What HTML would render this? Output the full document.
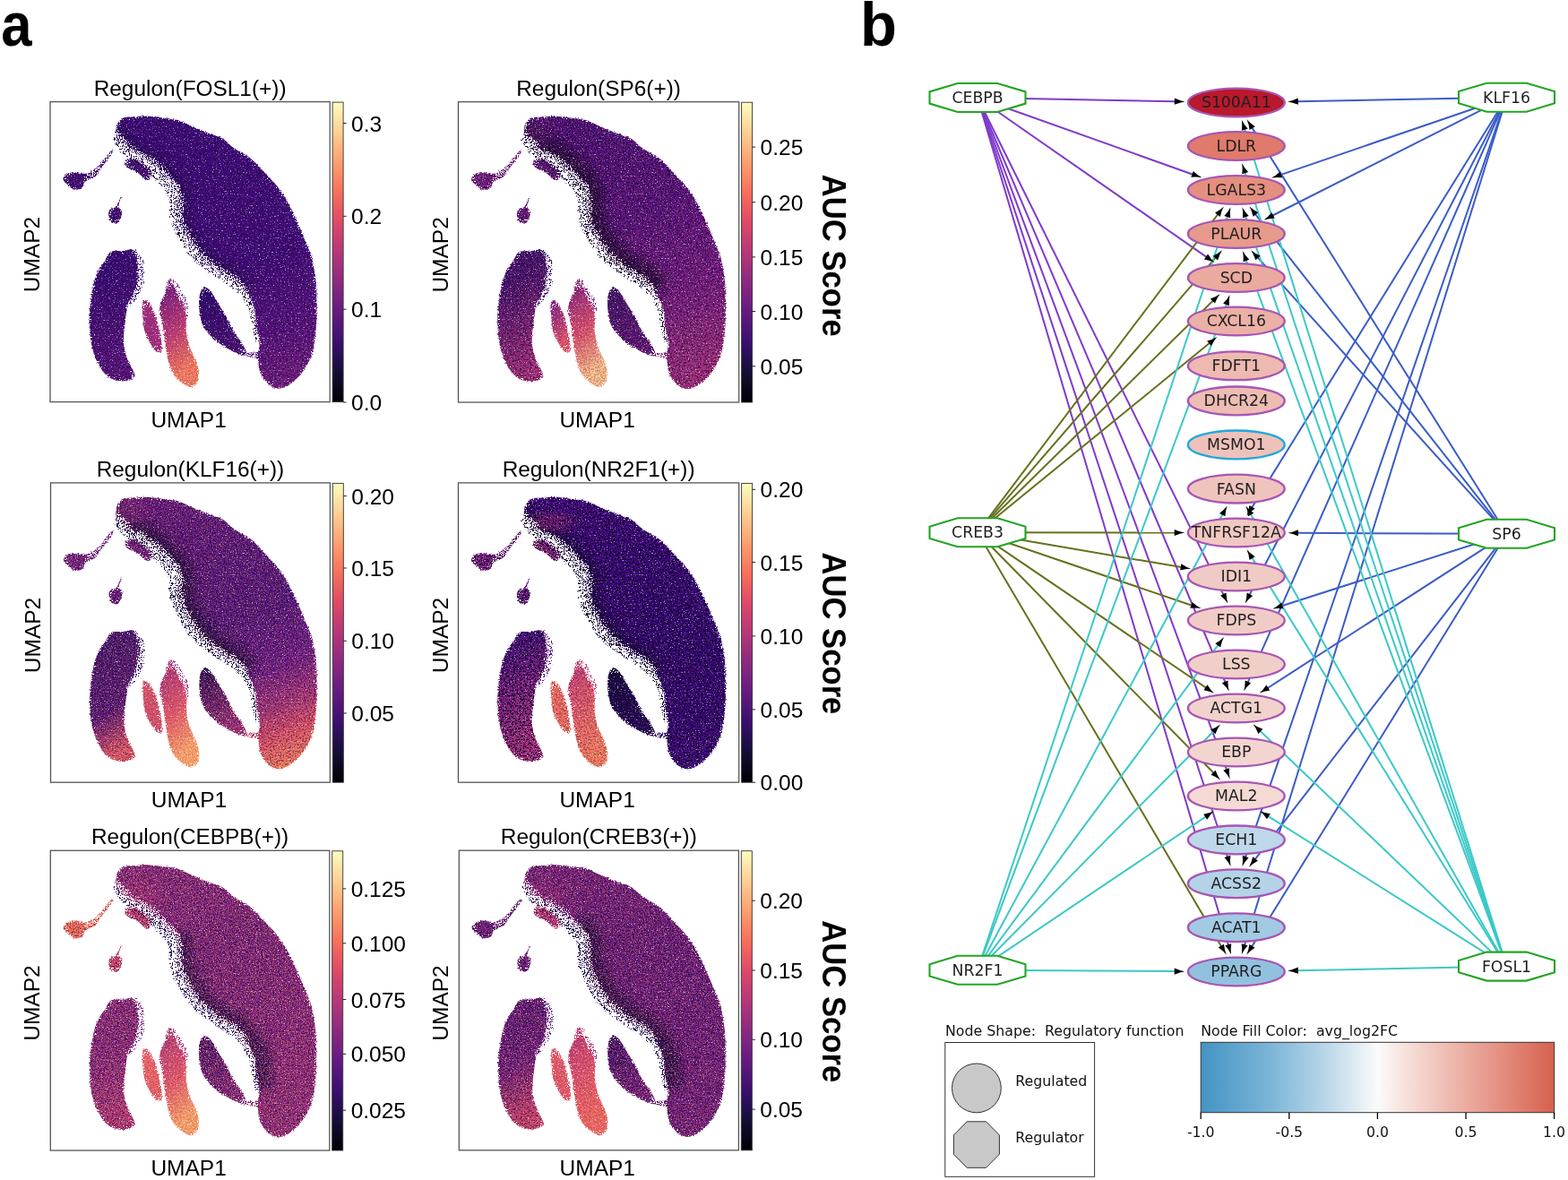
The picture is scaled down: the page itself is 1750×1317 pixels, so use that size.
<!DOCTYPE html>
<html><head><meta charset="utf-8"><title>Regulon figure</title>
<style>
html,body{margin:0;padding:0;background:#fff;}
svg{display:block;}
.ttl{font-family:"Liberation Sans",Arial,sans-serif;font-size:24.4px;text-anchor:middle;fill:#000;}
.ax{font-family:"Liberation Sans",Arial,sans-serif;font-size:24.5px;text-anchor:middle;fill:#000;}
.tk{font-family:"Liberation Sans",Arial,sans-serif;font-size:24.5px;fill:#000;}
.auc{font-family:"Liberation Sans",Arial,sans-serif;font-size:36px;font-weight:bold;text-anchor:middle;fill:#000;}
.pl{font-family:"Liberation Sans",Arial,sans-serif;font-size:67px;font-weight:bold;fill:#000;}
.nl{font-family:"DejaVu Sans",sans-serif;font-size:17.3px;text-anchor:middle;fill:#1e1e1e;}
.lg{font-family:"DejaVu Sans",sans-serif;font-size:15.8px;fill:#111;white-space:pre;}
.lgt{font-family:"DejaVu Sans",sans-serif;font-size:15.7px;fill:#111;text-anchor:middle;}
</style></head><body>
<svg width="1750" height="1317" viewBox="0 0 1750 1317">
<defs>
<path id="arr" d="M0.3,0 Q-5,-0.7 -11.3,-3.6 L-11.3,3.6 Q-5,0.7 0.3,0Z"/>
<filter color-interpolation-filters="sRGB" id="blur6" x="-20%" y="-20%" width="140%" height="140%"><feGaussianBlur stdDeviation="6"/></filter>
<filter color-interpolation-filters="sRGB" id="rough" x="-5%" y="-5%" width="110%" height="110%">
<feTurbulence type="fractalNoise" baseFrequency="0.6" numOctaves="2" seed="7" result="n"/>
<feDisplacementMap in="SourceGraphic" in2="n" scale="3" xChannelSelector="R" yChannelSelector="G"/>
</filter>
<filter color-interpolation-filters="sRGB" id="speck" x="0" y="0" width="100%" height="100%">
<feTurbulence type="fractalNoise" baseFrequency="0.75" numOctaves="1" seed="11" result="n"/>
<feColorMatrix in="n" type="matrix" values="0 0 0 0 1  0 0 0 0 1  0 0 0 0 1  0 0 -3.2 0 1.75"/>
<feComponentTransfer><feFuncA type="discrete" tableValues="0 0 0 0 0.5 1"/></feComponentTransfer>
</filter>
<filter color-interpolation-filters="sRGB" id="speckD" x="0" y="0" width="100%" height="100%">
<feTurbulence type="fractalNoise" baseFrequency="0.55" numOctaves="1" seed="23" result="n"/>
<feColorMatrix in="n" type="matrix" values="0 0 0 0 0.07  0 0 0 0 0.02  0 0 0 0 0.16  0 -4.5 0 0 2.6"/>
<feComponentTransfer><feFuncA type="discrete" tableValues="0 0 0 0.6 1 1"/></feComponentTransfer>
</filter>
<filter color-interpolation-filters="sRGB" id="speckF" x="0" y="0" width="100%" height="100%">
<feTurbulence type="fractalNoise" baseFrequency="0.65" numOctaves="1" seed="5" result="n"/>
<feColorMatrix in="n" type="matrix" values="0 0 0 0 1  0 0 0 0 1  0 0 0 0 1  0 0 -3 0 2.0"/>
<feComponentTransfer><feFuncA type="discrete" tableValues="0 0 0 1 1 1"/></feComponentTransfer>
</filter>
<filter color-interpolation-filters="sRGB" id="fringeF" x="0" y="0" width="100%" height="100%">
<feTurbulence type="fractalNoise" baseFrequency="0.7" numOctaves="1" seed="5" result="n"/>
<feColorMatrix in="n" type="matrix" values="0 0 0 0 0  0 0 0 0 0  0 0 0 0 0  1 0 0 0 0" result="nr"/>
<feComposite in="SourceAlpha" in2="nr" operator="arithmetic" k1="0" k2="0.55" k3="1" k4="-0.93" result="s"/>
<feComponentTransfer in="s" result="b"><feFuncA type="discrete" tableValues="0 1 1 1 1 1 1 1 1 1"/></feComponentTransfer>
<feFlood flood-color="#fff"/>
<feComposite in2="b" operator="in"/>
</filter>
<filter color-interpolation-filters="sRGB" id="speckC" x="0" y="0" width="100%" height="100%">
<feTurbulence type="fractalNoise" baseFrequency="0.8" numOctaves="1" seed="41" result="n"/>
<feColorMatrix in="n" type="matrix" values="0 0 0 0 0  0 0 0 0 0  0 0 0 0 0  -4.5 0 0 0 2.6" result="a"/>
<feComponentTransfer in="a" result="b"><feFuncA type="discrete" tableValues="0 0 0 1 1 1"/></feComponentTransfer>
<feComposite in="SourceGraphic" in2="b" operator="in"/>
</filter>
<filter color-interpolation-filters="sRGB" id="sparse" x="-10%" y="-10%" width="120%" height="120%">
<feTurbulence type="fractalNoise" baseFrequency="0.85" numOctaves="1" seed="77" result="n"/>
<feColorMatrix in="n" type="matrix" values="0 0 0 0 0  0 0 0 0 0  0 0 0 0 0  4.5 0 0 0 -2.0" result="a"/>
<feComponentTransfer in="a" result="b"><feFuncA type="discrete" tableValues="0 0 0 1 1 1"/></feComponentTransfer>
<feComposite in="SourceGraphic" in2="b" operator="in"/>
</filter>
<filter color-interpolation-filters="sRGB" id="blur3" x="-20%" y="-20%" width="140%" height="140%"><feGaussianBlur stdDeviation="3"/></filter>
<mask id="mshape" maskUnits="userSpaceOnUse" x="0" y="0" width="320" height="340"><path d="M73.1,35.7 C73.4,33.3 73.4,28 74.9,25 C76.4,22 78.7,19.2 82,17.8 C85.3,16.4 90.3,17.2 94.5,16.9 C98.7,16.6 102,15.8 107,16 C112,16.1 118.9,17.1 124.8,17.8 C130.7,18.6 136.7,18.7 142.6,20.5 C148.5,22.3 154.6,26 160.5,28.5 C166.4,31 173,33.6 178.3,35.7 C183.6,37.8 188.1,38.3 192.5,41 C196.9,43.7 199.9,48.1 205,51.7 C210.1,55.3 217,57.6 222.9,62.4 C228.8,67.2 235.3,74.5 240.7,80.2 C246,85.9 250.6,90.3 255,96.3 C259.4,102.2 263.5,108.8 267.4,115.9 C271.2,123 274.8,131.7 278.1,139.1 C281.4,146.5 284.6,154.6 287,160.5 C289.4,166.4 290.8,168 292.4,174.8 C294,181.7 295.9,192.7 296.8,201.6 C297.7,210.5 297.7,219.4 297.7,228.3 C297.7,237.2 297.7,246.2 296.8,255.1 C295.9,264 294.6,274.4 292.4,281.8 C290.2,289.2 286.8,294.6 283.5,299.6 C280.2,304.7 277,308.7 272.8,312.1 C268.6,315.5 262.7,319.1 258.5,320.1 C254.3,321.1 251.1,319.9 247.8,318.3 C244.5,316.7 241.3,313.4 238.9,310.3 C236.5,307.2 234.7,303.5 233.5,299.6 C232.3,295.7 233.4,289.5 231.5,287 C229.6,284.5 224.9,285.2 222,284.5 C219.1,283.8 214,283.7 214,283 C214,282.3 219,281.2 222,280.5 C225,279.8 230.1,281.2 232,279 C233.9,276.8 233.8,272.4 233.5,267.5 C233.2,262.6 230.9,255.6 230,249.7 C229.1,243.8 230,237.8 228.2,231.9 C226.4,226 223.2,219.3 219.3,214 C215.4,208.7 210.3,204 205,199.8 C199.7,195.7 193.1,193.3 187.2,189.1 C181.3,184.9 173.8,179 169.4,174.8 C165,170.6 163.2,167.9 160.5,164 C157.8,160.1 155.7,155.7 153.3,151.5 C150.9,147.3 148,143.5 146.2,139.1 C144.4,134.7 143.2,130.2 142.6,124.8 C142,119.5 143.2,112 142.6,107 C142,102 141.5,98.4 139.1,94.5 C136.7,90.6 132.3,87.7 128.4,83.8 C124.5,79.9 120.7,75.2 115.9,71.3 C111.1,67.4 105.2,63.9 99.8,60.6 C94.4,57.3 88.2,55.3 83.8,51.7 C79.3,48.1 74.9,41.9 73.1,39.2 C71.3,36.5 72.8,38.1 73.1,35.7Z" fill="#fff"/><path d="M83.8,66 C85,64.2 88.8,61.5 92.7,62.4 C96.6,63.3 103.4,68.3 107,71.3 C110.6,74.3 113.8,77.5 114.1,80.2 C114.4,82.9 111.8,87.7 108.8,87.4 C105.8,87.1 100.2,80.8 96.3,78.4 C92.4,76 87.7,75.2 85.6,73.1 C83.5,71 82.6,67.8 83.8,66Z" fill="#fff"/><path d="M14.3,86.5 C14.3,84.4 17.2,81.5 19.6,80.2 C22,78.9 25.5,78.4 28.5,78.4 C31.5,78.4 34.7,80.2 37.4,80.2 C40.1,80.2 41.9,79.8 44.6,78.4 C47.3,77.1 49.6,75.9 53.5,72.1 C57.4,68.2 65,57.8 67.7,55.3 C70.4,52.8 71.4,53.7 69.5,57 C67.6,60.3 59.6,70.4 56.3,74.9 C53,79.4 52.8,81.4 49.9,83.8 C47,86.2 41.6,87 39.2,89.1 C36.8,91.2 37.8,94.8 35.7,96.3 C33.6,97.8 29.4,98.6 26.7,98 C24,97.4 21.7,94.6 19.6,92.7 C17.5,90.8 14.3,88.6 14.3,86.5Z" fill="#fff"/><path d="M79.3,107 C79,108.6 76.3,114 76.5,116.7 C76.7,119.4 79.9,120.8 80.2,123 C80.5,125.2 79.3,128 78.4,130.1 C77.5,132.2 76.7,134.9 74.9,135.5 C73.1,136.1 69.3,135.5 67.7,133.7 C66.1,131.9 65.1,127.2 65.1,124.8 C65.1,122.4 66.2,120.8 67.7,119.5 C69.2,118.2 72.3,118.8 74.1,116.7 C75.9,114.6 77.5,108.6 78.4,107 C79.3,105.4 79.6,105.4 79.3,107Z" fill="#fff"/><path d="M67.7,167.7 C71,165.8 76,167.2 80.2,166.8 C84.4,166.4 89.8,163.6 92.7,165.5 C95.6,167.4 96.7,172.7 97.5,178.4 C98.3,184.2 98.4,193.6 97.5,200 C96.6,206.4 93.8,212.7 92,217 C90.2,221.3 88.2,221.2 86.8,226 C85.4,230.8 84.6,239.2 83.8,246.1 C83,253 81.7,260.9 82,267.5 C82.3,274.1 83.5,279.1 85.6,285.4 C87.7,291.6 93.9,300.9 94.5,305 C95.1,309.1 91.8,309.1 89.1,310.3 C86.4,311.5 82.6,312.7 78.4,312.1 C74.2,311.5 68.4,310.1 64.2,306.8 C60.1,303.5 56.5,298.1 53.5,292.5 C50.5,286.9 48,280.6 46.4,272.9 C44.8,265.2 43.9,255 43.7,246.1 C43.6,237.2 44.2,228.3 45.5,219.4 C46.8,210.5 49.2,199.5 51.7,192.7 C54.2,185.9 57.9,182.6 60.6,178.4 C63.3,174.2 64.4,169.6 67.7,167.7Z" fill="#fff"/><path d="M133.8,198 C135.2,198.2 136.8,202.9 138.3,205.9 C139.8,208.9 140.9,212.6 142.8,216.2 C144.7,219.8 148.1,223.6 149.6,227.6 C151.1,231.6 151.5,235.4 151.9,240.1 C152.3,244.8 151.3,250.5 151.9,256 C152.5,261.5 153.6,267.8 155.3,273.1 C157,278.4 160.3,283.1 162.1,287.9 C163.9,292.6 165.6,297.4 166,301.6 C166.4,305.8 165.9,310.1 164.5,313 C163.1,315.9 160.5,318.5 157.6,318.7 C154.7,318.9 150.7,316.6 147.3,314.1 C143.9,311.6 139.8,308.3 137.1,303.9 C134.4,299.5 132.9,294 131.4,287.9 C129.9,281.8 128.9,273.7 128,267.4 C127,261.1 126.7,255.6 125.7,250.3 C124.8,245 122.7,239.9 122.3,235.5 C121.9,231.1 122.5,227.7 123.4,224.1 C124.4,220.5 126.9,217.1 128,213.9 C129.1,210.7 129.2,207.5 130.2,204.8 C131.2,202.2 132.5,197.8 133.8,198Z" fill="#fff"/><path d="M103.4,223 C104.6,220.6 108.1,222 110.5,224.7 C112.9,227.4 115.6,233.1 117.7,239 C119.8,244.9 121.8,253.9 123,260.4 C124.2,266.9 125.7,275.2 124.8,278.2 C123.9,281.2 120.1,280 117.7,278.2 C115.3,276.4 112.6,271.4 110.5,267.5 C108.4,263.6 106.4,259.9 105.2,255.1 C104,250.3 103.7,244.3 103.4,239 C103.1,233.7 102.2,225.4 103.4,223Z" fill="#fff"/><path d="M171.2,207.8 C173.1,206.6 175.6,207.7 178.3,210.5 C181,213.3 184.2,219.9 187.2,224.7 C190.2,229.4 193.1,233.7 196.1,239 C199.1,244.3 202,251.8 205,256.8 C208,261.9 211.5,265.1 213.9,269.3 C216.3,273.5 219.9,279.7 219.3,281.8 C218.7,283.9 214.3,283 210.4,281.8 C206.5,280.6 200.6,277.4 196.1,274.7 C191.6,272 187.8,269.7 183.6,265.8 C179.4,261.9 174,256.9 171.2,251.5 C168.4,246.2 167.4,239.3 166.7,233.7 C165.9,228 165.9,221.9 166.7,217.6 C167.4,213.3 169.3,209 171.2,207.8Z" fill="#fff"/></mask><g id="fringeband"><rect x="0" y="0" width="312" height="335" fill="#fff" opacity="0.003"/><g filter="url(#blur3)"><path d="M73.1,35.7 C73.4,33.3 73.4,28 74.9,25 C76.4,22 78.7,19.2 82,17.8 C85.3,16.4 90.3,17.2 94.5,16.9 C98.7,16.6 102,15.8 107,16 C112,16.1 118.9,17.1 124.8,17.8 C130.7,18.6 136.7,18.7 142.6,20.5 C148.5,22.3 154.6,26 160.5,28.5 C166.4,31 173,33.6 178.3,35.7 C183.6,37.8 188.1,38.3 192.5,41 C196.9,43.7 199.9,48.1 205,51.7 C210.1,55.3 217,57.6 222.9,62.4 C228.8,67.2 235.3,74.5 240.7,80.2 C246,85.9 250.6,90.3 255,96.3 C259.4,102.2 263.5,108.8 267.4,115.9 C271.2,123 274.8,131.7 278.1,139.1 C281.4,146.5 284.6,154.6 287,160.5 C289.4,166.4 290.8,168 292.4,174.8 C294,181.7 295.9,192.7 296.8,201.6 C297.7,210.5 297.7,219.4 297.7,228.3 C297.7,237.2 297.7,246.2 296.8,255.1 C295.9,264 294.6,274.4 292.4,281.8 C290.2,289.2 286.8,294.6 283.5,299.6 C280.2,304.7 277,308.7 272.8,312.1 C268.6,315.5 262.7,319.1 258.5,320.1 C254.3,321.1 251.1,319.9 247.8,318.3 C244.5,316.7 241.3,313.4 238.9,310.3 C236.5,307.2 234.7,303.5 233.5,299.6 C232.3,295.7 233.4,289.5 231.5,287 C229.6,284.5 224.9,285.2 222,284.5 C219.1,283.8 214,283.7 214,283 C214,282.3 219,281.2 222,280.5 C225,279.8 230.1,281.2 232,279 C233.9,276.8 233.8,272.4 233.5,267.5 C233.2,262.6 230.9,255.6 230,249.7 C229.1,243.8 230,237.8 228.2,231.9 C226.4,226 223.2,219.3 219.3,214 C215.4,208.7 210.3,204 205,199.8 C199.7,195.7 193.1,193.3 187.2,189.1 C181.3,184.9 173.8,179 169.4,174.8 C165,170.6 163.2,167.9 160.5,164 C157.8,160.1 155.7,155.7 153.3,151.5 C150.9,147.3 148,143.5 146.2,139.1 C144.4,134.7 143.2,130.2 142.6,124.8 C142,119.5 143.2,112 142.6,107 C142,102 141.5,98.4 139.1,94.5 C136.7,90.6 132.3,87.7 128.4,83.8 C124.5,79.9 120.7,75.2 115.9,71.3 C111.1,67.4 105.2,63.9 99.8,60.6 C94.4,57.3 88.2,55.3 83.8,51.7 C79.3,48.1 74.9,41.9 73.1,39.2 C71.3,36.5 72.8,38.1 73.1,35.7Z" fill="none" stroke="#fff" stroke-width="7"/><path d="M83.8,66 C85,64.2 88.8,61.5 92.7,62.4 C96.6,63.3 103.4,68.3 107,71.3 C110.6,74.3 113.8,77.5 114.1,80.2 C114.4,82.9 111.8,87.7 108.8,87.4 C105.8,87.1 100.2,80.8 96.3,78.4 C92.4,76 87.7,75.2 85.6,73.1 C83.5,71 82.6,67.8 83.8,66Z" fill="none" stroke="#fff" stroke-width="7"/><path d="M14.3,86.5 C14.3,84.4 17.2,81.5 19.6,80.2 C22,78.9 25.5,78.4 28.5,78.4 C31.5,78.4 34.7,80.2 37.4,80.2 C40.1,80.2 41.9,79.8 44.6,78.4 C47.3,77.1 49.6,75.9 53.5,72.1 C57.4,68.2 65,57.8 67.7,55.3 C70.4,52.8 71.4,53.7 69.5,57 C67.6,60.3 59.6,70.4 56.3,74.9 C53,79.4 52.8,81.4 49.9,83.8 C47,86.2 41.6,87 39.2,89.1 C36.8,91.2 37.8,94.8 35.7,96.3 C33.6,97.8 29.4,98.6 26.7,98 C24,97.4 21.7,94.6 19.6,92.7 C17.5,90.8 14.3,88.6 14.3,86.5Z" fill="none" stroke="#fff" stroke-width="7"/><path d="M79.3,107 C79,108.6 76.3,114 76.5,116.7 C76.7,119.4 79.9,120.8 80.2,123 C80.5,125.2 79.3,128 78.4,130.1 C77.5,132.2 76.7,134.9 74.9,135.5 C73.1,136.1 69.3,135.5 67.7,133.7 C66.1,131.9 65.1,127.2 65.1,124.8 C65.1,122.4 66.2,120.8 67.7,119.5 C69.2,118.2 72.3,118.8 74.1,116.7 C75.9,114.6 77.5,108.6 78.4,107 C79.3,105.4 79.6,105.4 79.3,107Z" fill="none" stroke="#fff" stroke-width="7"/><path d="M67.7,167.7 C71,165.8 76,167.2 80.2,166.8 C84.4,166.4 89.8,163.6 92.7,165.5 C95.6,167.4 96.7,172.7 97.5,178.4 C98.3,184.2 98.4,193.6 97.5,200 C96.6,206.4 93.8,212.7 92,217 C90.2,221.3 88.2,221.2 86.8,226 C85.4,230.8 84.6,239.2 83.8,246.1 C83,253 81.7,260.9 82,267.5 C82.3,274.1 83.5,279.1 85.6,285.4 C87.7,291.6 93.9,300.9 94.5,305 C95.1,309.1 91.8,309.1 89.1,310.3 C86.4,311.5 82.6,312.7 78.4,312.1 C74.2,311.5 68.4,310.1 64.2,306.8 C60.1,303.5 56.5,298.1 53.5,292.5 C50.5,286.9 48,280.6 46.4,272.9 C44.8,265.2 43.9,255 43.7,246.1 C43.6,237.2 44.2,228.3 45.5,219.4 C46.8,210.5 49.2,199.5 51.7,192.7 C54.2,185.9 57.9,182.6 60.6,178.4 C63.3,174.2 64.4,169.6 67.7,167.7Z" fill="none" stroke="#fff" stroke-width="7"/><path d="M133.8,198 C135.2,198.2 136.8,202.9 138.3,205.9 C139.8,208.9 140.9,212.6 142.8,216.2 C144.7,219.8 148.1,223.6 149.6,227.6 C151.1,231.6 151.5,235.4 151.9,240.1 C152.3,244.8 151.3,250.5 151.9,256 C152.5,261.5 153.6,267.8 155.3,273.1 C157,278.4 160.3,283.1 162.1,287.9 C163.9,292.6 165.6,297.4 166,301.6 C166.4,305.8 165.9,310.1 164.5,313 C163.1,315.9 160.5,318.5 157.6,318.7 C154.7,318.9 150.7,316.6 147.3,314.1 C143.9,311.6 139.8,308.3 137.1,303.9 C134.4,299.5 132.9,294 131.4,287.9 C129.9,281.8 128.9,273.7 128,267.4 C127,261.1 126.7,255.6 125.7,250.3 C124.8,245 122.7,239.9 122.3,235.5 C121.9,231.1 122.5,227.7 123.4,224.1 C124.4,220.5 126.9,217.1 128,213.9 C129.1,210.7 129.2,207.5 130.2,204.8 C131.2,202.2 132.5,197.8 133.8,198Z" fill="none" stroke="#fff" stroke-width="7"/><path d="M103.4,223 C104.6,220.6 108.1,222 110.5,224.7 C112.9,227.4 115.6,233.1 117.7,239 C119.8,244.9 121.8,253.9 123,260.4 C124.2,266.9 125.7,275.2 124.8,278.2 C123.9,281.2 120.1,280 117.7,278.2 C115.3,276.4 112.6,271.4 110.5,267.5 C108.4,263.6 106.4,259.9 105.2,255.1 C104,250.3 103.7,244.3 103.4,239 C103.1,233.7 102.2,225.4 103.4,223Z" fill="none" stroke="#fff" stroke-width="7"/><path d="M171.2,207.8 C173.1,206.6 175.6,207.7 178.3,210.5 C181,213.3 184.2,219.9 187.2,224.7 C190.2,229.4 193.1,233.7 196.1,239 C199.1,244.3 202,251.8 205,256.8 C208,261.9 211.5,265.1 213.9,269.3 C216.3,273.5 219.9,279.7 219.3,281.8 C218.7,283.9 214.3,283 210.4,281.8 C206.5,280.6 200.6,277.4 196.1,274.7 C191.6,272 187.8,269.7 183.6,265.8 C179.4,261.9 174,256.9 171.2,251.5 C168.4,246.2 167.4,239.3 166.7,233.7 C165.9,228 165.9,221.9 166.7,217.6 C167.4,213.3 169.3,209 171.2,207.8Z" fill="none" stroke="#fff" stroke-width="7"/><path d="M219.3,214 C216.9,211.6 210.3,204 205,199.8 C199.7,195.7 193.1,193.3 187.2,189.1 C181.3,184.9 173.8,179 169.4,174.8 C165,170.6 163.2,167.9 160.5,164 C157.8,160.1 155.7,155.7 153.3,151.5 C150.9,147.3 148,143.5 146.2,139.1 C144.4,134.7 143.2,130.2 142.6,124.8 C142,119.5 143.2,112 142.6,107 C142,102 141.5,98.4 139.1,94.5 C136.7,90.6 132.3,87.7 128.4,83.8 C124.5,79.9 120.7,75.2 115.9,71.3 C111.1,67.4 105.2,63.9 99.8,60.6 C94.4,57.3 88.2,55.3 83.8,51.7 C79.3,48.1 72.9,39.5 73.1,39.2 C73.3,38.9 83,48.2 85,50" fill="none" stroke="#fff" stroke-width="16"/></g></g><mask id="mdark" maskUnits="userSpaceOnUse" x="0" y="0" width="320" height="340"><path d="M73.1,35.7 C73.4,33.3 73.4,28 74.9,25 C76.4,22 78.7,19.2 82,17.8 C85.3,16.4 90.3,17.2 94.5,16.9 C98.7,16.6 102,15.8 107,16 C112,16.1 118.9,17.1 124.8,17.8 C130.7,18.6 136.7,18.7 142.6,20.5 C148.5,22.3 154.6,26 160.5,28.5 C166.4,31 173,33.6 178.3,35.7 C183.6,37.8 188.1,38.3 192.5,41 C196.9,43.7 199.9,48.1 205,51.7 C210.1,55.3 217,57.6 222.9,62.4 C228.8,67.2 235.3,74.5 240.7,80.2 C246,85.9 250.6,90.3 255,96.3 C259.4,102.2 263.5,108.8 267.4,115.9 C271.2,123 274.8,131.7 278.1,139.1 C281.4,146.5 284.6,154.6 287,160.5 C289.4,166.4 290.8,168 292.4,174.8 C294,181.7 295.9,192.7 296.8,201.6 C297.7,210.5 297.7,219.4 297.7,228.3 C297.7,237.2 297.7,246.2 296.8,255.1 C295.9,264 294.6,274.4 292.4,281.8 C290.2,289.2 286.8,294.6 283.5,299.6 C280.2,304.7 277,308.7 272.8,312.1 C268.6,315.5 262.7,319.1 258.5,320.1 C254.3,321.1 251.1,319.9 247.8,318.3 C244.5,316.7 241.3,313.4 238.9,310.3 C236.5,307.2 234.7,303.5 233.5,299.6 C232.3,295.7 233.4,289.5 231.5,287 C229.6,284.5 224.9,285.2 222,284.5 C219.1,283.8 214,283.7 214,283 C214,282.3 219,281.2 222,280.5 C225,279.8 230.1,281.2 232,279 C233.9,276.8 233.8,272.4 233.5,267.5 C233.2,262.6 230.9,255.6 230,249.7 C229.1,243.8 230,237.8 228.2,231.9 C226.4,226 223.2,219.3 219.3,214 C215.4,208.7 210.3,204 205,199.8 C199.7,195.7 193.1,193.3 187.2,189.1 C181.3,184.9 173.8,179 169.4,174.8 C165,170.6 163.2,167.9 160.5,164 C157.8,160.1 155.7,155.7 153.3,151.5 C150.9,147.3 148,143.5 146.2,139.1 C144.4,134.7 143.2,130.2 142.6,124.8 C142,119.5 143.2,112 142.6,107 C142,102 141.5,98.4 139.1,94.5 C136.7,90.6 132.3,87.7 128.4,83.8 C124.5,79.9 120.7,75.2 115.9,71.3 C111.1,67.4 105.2,63.9 99.8,60.6 C94.4,57.3 88.2,55.3 83.8,51.7 C79.3,48.1 74.9,41.9 73.1,39.2 C71.3,36.5 72.8,38.1 73.1,35.7Z" fill="#fff"/><path d="M83.8,66 C85,64.2 88.8,61.5 92.7,62.4 C96.6,63.3 103.4,68.3 107,71.3 C110.6,74.3 113.8,77.5 114.1,80.2 C114.4,82.9 111.8,87.7 108.8,87.4 C105.8,87.1 100.2,80.8 96.3,78.4 C92.4,76 87.7,75.2 85.6,73.1 C83.5,71 82.6,67.8 83.8,66Z" fill="#fff"/><path d="M14.3,86.5 C14.3,84.4 17.2,81.5 19.6,80.2 C22,78.9 25.5,78.4 28.5,78.4 C31.5,78.4 34.7,80.2 37.4,80.2 C40.1,80.2 41.9,79.8 44.6,78.4 C47.3,77.1 49.6,75.9 53.5,72.1 C57.4,68.2 65,57.8 67.7,55.3 C70.4,52.8 71.4,53.7 69.5,57 C67.6,60.3 59.6,70.4 56.3,74.9 C53,79.4 52.8,81.4 49.9,83.8 C47,86.2 41.6,87 39.2,89.1 C36.8,91.2 37.8,94.8 35.7,96.3 C33.6,97.8 29.4,98.6 26.7,98 C24,97.4 21.7,94.6 19.6,92.7 C17.5,90.8 14.3,88.6 14.3,86.5Z" fill="#fff"/><path d="M79.3,107 C79,108.6 76.3,114 76.5,116.7 C76.7,119.4 79.9,120.8 80.2,123 C80.5,125.2 79.3,128 78.4,130.1 C77.5,132.2 76.7,134.9 74.9,135.5 C73.1,136.1 69.3,135.5 67.7,133.7 C66.1,131.9 65.1,127.2 65.1,124.8 C65.1,122.4 66.2,120.8 67.7,119.5 C69.2,118.2 72.3,118.8 74.1,116.7 C75.9,114.6 77.5,108.6 78.4,107 C79.3,105.4 79.6,105.4 79.3,107Z" fill="#fff"/><path d="M67.7,167.7 C71,165.8 76,167.2 80.2,166.8 C84.4,166.4 89.8,163.6 92.7,165.5 C95.6,167.4 96.7,172.7 97.5,178.4 C98.3,184.2 98.4,193.6 97.5,200 C96.6,206.4 93.8,212.7 92,217 C90.2,221.3 88.2,221.2 86.8,226 C85.4,230.8 84.6,239.2 83.8,246.1 C83,253 81.7,260.9 82,267.5 C82.3,274.1 83.5,279.1 85.6,285.4 C87.7,291.6 93.9,300.9 94.5,305 C95.1,309.1 91.8,309.1 89.1,310.3 C86.4,311.5 82.6,312.7 78.4,312.1 C74.2,311.5 68.4,310.1 64.2,306.8 C60.1,303.5 56.5,298.1 53.5,292.5 C50.5,286.9 48,280.6 46.4,272.9 C44.8,265.2 43.9,255 43.7,246.1 C43.6,237.2 44.2,228.3 45.5,219.4 C46.8,210.5 49.2,199.5 51.7,192.7 C54.2,185.9 57.9,182.6 60.6,178.4 C63.3,174.2 64.4,169.6 67.7,167.7Z" fill="#fff"/><path d="M171.2,207.8 C173.1,206.6 175.6,207.7 178.3,210.5 C181,213.3 184.2,219.9 187.2,224.7 C190.2,229.4 193.1,233.7 196.1,239 C199.1,244.3 202,251.8 205,256.8 C208,261.9 211.5,265.1 213.9,269.3 C216.3,273.5 219.9,279.7 219.3,281.8 C218.7,283.9 214.3,283 210.4,281.8 C206.5,280.6 200.6,277.4 196.1,274.7 C191.6,272 187.8,269.7 183.6,265.8 C179.4,261.9 174,256.9 171.2,251.5 C168.4,246.2 167.4,239.3 166.7,233.7 C165.9,228 165.9,221.9 166.7,217.6 C167.4,213.3 169.3,209 171.2,207.8Z" fill="#fff"/></mask><mask id="mbright" maskUnits="userSpaceOnUse" x="0" y="0" width="320" height="340"><path d="M133.8,198 C135.2,198.2 136.8,202.9 138.3,205.9 C139.8,208.9 140.9,212.6 142.8,216.2 C144.7,219.8 148.1,223.6 149.6,227.6 C151.1,231.6 151.5,235.4 151.9,240.1 C152.3,244.8 151.3,250.5 151.9,256 C152.5,261.5 153.6,267.8 155.3,273.1 C157,278.4 160.3,283.1 162.1,287.9 C163.9,292.6 165.6,297.4 166,301.6 C166.4,305.8 165.9,310.1 164.5,313 C163.1,315.9 160.5,318.5 157.6,318.7 C154.7,318.9 150.7,316.6 147.3,314.1 C143.9,311.6 139.8,308.3 137.1,303.9 C134.4,299.5 132.9,294 131.4,287.9 C129.9,281.8 128.9,273.7 128,267.4 C127,261.1 126.7,255.6 125.7,250.3 C124.8,245 122.7,239.9 122.3,235.5 C121.9,231.1 122.5,227.7 123.4,224.1 C124.4,220.5 126.9,217.1 128,213.9 C129.1,210.7 129.2,207.5 130.2,204.8 C131.2,202.2 132.5,197.8 133.8,198Z" fill="#fff"/><path d="M103.4,223 C104.6,220.6 108.1,222 110.5,224.7 C112.9,227.4 115.6,233.1 117.7,239 C119.8,244.9 121.8,253.9 123,260.4 C124.2,266.9 125.7,275.2 124.8,278.2 C123.9,281.2 120.1,280 117.7,278.2 C115.3,276.4 112.6,271.4 110.5,267.5 C108.4,263.6 106.4,259.9 105.2,255.1 C104,250.3 103.7,244.3 103.4,239 C103.1,233.7 102.2,225.4 103.4,223Z" fill="#fff"/></mask>
</defs>
<rect width="1750" height="1317" fill="#fff"/>
<text transform="translate(1.2,51.3) scale(0.92,1.02)" class="pl">a</text>
<text transform="translate(960,51.3) scale(1,1.01)" class="pl">b</text>

<defs>
<linearGradient id="gc0" gradientUnits="userSpaceOnUse" x1="150" y1="20" x2="275" y2="320"><stop offset="0" stop-color="#420d7c"/><stop offset="0.55" stop-color="#460e7e"/><stop offset="0.8" stop-color="#5c1481"/><stop offset="1" stop-color="#7a2181"/></linearGradient>
<linearGradient id="gl0" x1="0" y1="0" x2="0.2" y2="1"><stop offset="0.2" stop-color="#3f0d7a"/><stop offset="0.25" stop-color="#3f0d7a"/><stop offset="1" stop-color="#5e1680"/></linearGradient>
<linearGradient id="gm0" x1="0" y1="0" x2="0.3" y2="1"><stop offset="0.05" stop-color="#6a1c80"/><stop offset="0.55" stop-color="#c03b75"/><stop offset="0.95" stop-color="#f57b5f"/></linearGradient>
<linearGradient id="gf0" x1="0" y1="0" x2="0.4" y2="1"><stop offset="0.1" stop-color="#380c72"/><stop offset="1" stop-color="#4c1278"/></linearGradient>
<clipPath id="cc0"><path d="M73.1,35.7 C73.4,33.3 73.4,28 74.9,25 C76.4,22 78.7,19.2 82,17.8 C85.3,16.4 90.3,17.2 94.5,16.9 C98.7,16.6 102,15.8 107,16 C112,16.1 118.9,17.1 124.8,17.8 C130.7,18.6 136.7,18.7 142.6,20.5 C148.5,22.3 154.6,26 160.5,28.5 C166.4,31 173,33.6 178.3,35.7 C183.6,37.8 188.1,38.3 192.5,41 C196.9,43.7 199.9,48.1 205,51.7 C210.1,55.3 217,57.6 222.9,62.4 C228.8,67.2 235.3,74.5 240.7,80.2 C246,85.9 250.6,90.3 255,96.3 C259.4,102.2 263.5,108.8 267.4,115.9 C271.2,123 274.8,131.7 278.1,139.1 C281.4,146.5 284.6,154.6 287,160.5 C289.4,166.4 290.8,168 292.4,174.8 C294,181.7 295.9,192.7 296.8,201.6 C297.7,210.5 297.7,219.4 297.7,228.3 C297.7,237.2 297.7,246.2 296.8,255.1 C295.9,264 294.6,274.4 292.4,281.8 C290.2,289.2 286.8,294.6 283.5,299.6 C280.2,304.7 277,308.7 272.8,312.1 C268.6,315.5 262.7,319.1 258.5,320.1 C254.3,321.1 251.1,319.9 247.8,318.3 C244.5,316.7 241.3,313.4 238.9,310.3 C236.5,307.2 234.7,303.5 233.5,299.6 C232.3,295.7 233.4,289.5 231.5,287 C229.6,284.5 224.9,285.2 222,284.5 C219.1,283.8 214,283.7 214,283 C214,282.3 219,281.2 222,280.5 C225,279.8 230.1,281.2 232,279 C233.9,276.8 233.8,272.4 233.5,267.5 C233.2,262.6 230.9,255.6 230,249.7 C229.1,243.8 230,237.8 228.2,231.9 C226.4,226 223.2,219.3 219.3,214 C215.4,208.7 210.3,204 205,199.8 C199.7,195.7 193.1,193.3 187.2,189.1 C181.3,184.9 173.8,179 169.4,174.8 C165,170.6 163.2,167.9 160.5,164 C157.8,160.1 155.7,155.7 153.3,151.5 C150.9,147.3 148,143.5 146.2,139.1 C144.4,134.7 143.2,130.2 142.6,124.8 C142,119.5 143.2,112 142.6,107 C142,102 141.5,98.4 139.1,94.5 C136.7,90.6 132.3,87.7 128.4,83.8 C124.5,79.9 120.7,75.2 115.9,71.3 C111.1,67.4 105.2,63.9 99.8,60.6 C94.4,57.3 88.2,55.3 83.8,51.7 C79.3,48.1 74.9,41.9 73.1,39.2 C71.3,36.5 72.8,38.1 73.1,35.7Z"/></clipPath>
</defs>
<g transform="translate(56,113.6) scale(0.9994,0.9988)">
<g filter="url(#rough)">
<path d="M73.1,35.7 C73.4,33.3 73.4,28 74.9,25 C76.4,22 78.7,19.2 82,17.8 C85.3,16.4 90.3,17.2 94.5,16.9 C98.7,16.6 102,15.8 107,16 C112,16.1 118.9,17.1 124.8,17.8 C130.7,18.6 136.7,18.7 142.6,20.5 C148.5,22.3 154.6,26 160.5,28.5 C166.4,31 173,33.6 178.3,35.7 C183.6,37.8 188.1,38.3 192.5,41 C196.9,43.7 199.9,48.1 205,51.7 C210.1,55.3 217,57.6 222.9,62.4 C228.8,67.2 235.3,74.5 240.7,80.2 C246,85.9 250.6,90.3 255,96.3 C259.4,102.2 263.5,108.8 267.4,115.9 C271.2,123 274.8,131.7 278.1,139.1 C281.4,146.5 284.6,154.6 287,160.5 C289.4,166.4 290.8,168 292.4,174.8 C294,181.7 295.9,192.7 296.8,201.6 C297.7,210.5 297.7,219.4 297.7,228.3 C297.7,237.2 297.7,246.2 296.8,255.1 C295.9,264 294.6,274.4 292.4,281.8 C290.2,289.2 286.8,294.6 283.5,299.6 C280.2,304.7 277,308.7 272.8,312.1 C268.6,315.5 262.7,319.1 258.5,320.1 C254.3,321.1 251.1,319.9 247.8,318.3 C244.5,316.7 241.3,313.4 238.9,310.3 C236.5,307.2 234.7,303.5 233.5,299.6 C232.3,295.7 233.4,289.5 231.5,287 C229.6,284.5 224.9,285.2 222,284.5 C219.1,283.8 214,283.7 214,283 C214,282.3 219,281.2 222,280.5 C225,279.8 230.1,281.2 232,279 C233.9,276.8 233.8,272.4 233.5,267.5 C233.2,262.6 230.9,255.6 230,249.7 C229.1,243.8 230,237.8 228.2,231.9 C226.4,226 223.2,219.3 219.3,214 C215.4,208.7 210.3,204 205,199.8 C199.7,195.7 193.1,193.3 187.2,189.1 C181.3,184.9 173.8,179 169.4,174.8 C165,170.6 163.2,167.9 160.5,164 C157.8,160.1 155.7,155.7 153.3,151.5 C150.9,147.3 148,143.5 146.2,139.1 C144.4,134.7 143.2,130.2 142.6,124.8 C142,119.5 143.2,112 142.6,107 C142,102 141.5,98.4 139.1,94.5 C136.7,90.6 132.3,87.7 128.4,83.8 C124.5,79.9 120.7,75.2 115.9,71.3 C111.1,67.4 105.2,63.9 99.8,60.6 C94.4,57.3 88.2,55.3 83.8,51.7 C79.3,48.1 74.9,41.9 73.1,39.2 C71.3,36.5 72.8,38.1 73.1,35.7Z" fill="url(#gc0)"/>
<g clip-path="url(#cc0)"><path d="M219.3,214 C216.9,211.6 210.3,204 205,199.8 C199.7,195.7 193.1,193.3 187.2,189.1 C181.3,184.9 173.8,179 169.4,174.8 C165,170.6 163.2,167.9 160.5,164 C157.8,160.1 155.7,155.7 153.3,151.5 C150.9,147.3 148,143.5 146.2,139.1 C144.4,134.7 143.2,130.2 142.6,124.8 C142,119.5 143.2,112 142.6,107 C142,102 141.5,98.4 139.1,94.5 C136.7,90.6 132.3,87.7 128.4,83.8 C124.5,79.9 120.7,75.2 115.9,71.3 C111.1,67.4 105.2,63.9 99.8,60.6 C94.4,57.3 88.2,55.3 83.8,51.7 C79.3,48.1 72.9,39.5 73.1,39.2 C73.3,38.9 83,48.2 85,50" fill="none" stroke="#240a4c" stroke-width="26" stroke-opacity="0.45" filter="url(#blur6)"/>
</g>
<path d="M83.8,66 C85,64.2 88.8,61.5 92.7,62.4 C96.6,63.3 103.4,68.3 107,71.3 C110.6,74.3 113.8,77.5 114.1,80.2 C114.4,82.9 111.8,87.7 108.8,87.4 C105.8,87.1 100.2,80.8 96.3,78.4 C92.4,76 87.7,75.2 85.6,73.1 C83.5,71 82.6,67.8 83.8,66Z" fill="#4c1278"/>
<path d="M14.3,86.5 C14.3,84.4 17.2,81.5 19.6,80.2 C22,78.9 25.5,78.4 28.5,78.4 C31.5,78.4 34.7,80.2 37.4,80.2 C40.1,80.2 41.9,79.8 44.6,78.4 C47.3,77.1 49.6,75.9 53.5,72.1 C57.4,68.2 65,57.8 67.7,55.3 C70.4,52.8 71.4,53.7 69.5,57 C67.6,60.3 59.6,70.4 56.3,74.9 C53,79.4 52.8,81.4 49.9,83.8 C47,86.2 41.6,87 39.2,89.1 C36.8,91.2 37.8,94.8 35.7,96.3 C33.6,97.8 29.4,98.6 26.7,98 C24,97.4 21.7,94.6 19.6,92.7 C17.5,90.8 14.3,88.6 14.3,86.5Z" fill="#4a1178"/>
<path d="M79.3,107 C79,108.6 76.3,114 76.5,116.7 C76.7,119.4 79.9,120.8 80.2,123 C80.5,125.2 79.3,128 78.4,130.1 C77.5,132.2 76.7,134.9 74.9,135.5 C73.1,136.1 69.3,135.5 67.7,133.7 C66.1,131.9 65.1,127.2 65.1,124.8 C65.1,122.4 66.2,120.8 67.7,119.5 C69.2,118.2 72.3,118.8 74.1,116.7 C75.9,114.6 77.5,108.6 78.4,107 C79.3,105.4 79.6,105.4 79.3,107Z" fill="#4a1178"/>
<path d="M67.7,167.7 C71,165.8 76,167.2 80.2,166.8 C84.4,166.4 89.8,163.6 92.7,165.5 C95.6,167.4 96.7,172.7 97.5,178.4 C98.3,184.2 98.4,193.6 97.5,200 C96.6,206.4 93.8,212.7 92,217 C90.2,221.3 88.2,221.2 86.8,226 C85.4,230.8 84.6,239.2 83.8,246.1 C83,253 81.7,260.9 82,267.5 C82.3,274.1 83.5,279.1 85.6,285.4 C87.7,291.6 93.9,300.9 94.5,305 C95.1,309.1 91.8,309.1 89.1,310.3 C86.4,311.5 82.6,312.7 78.4,312.1 C74.2,311.5 68.4,310.1 64.2,306.8 C60.1,303.5 56.5,298.1 53.5,292.5 C50.5,286.9 48,280.6 46.4,272.9 C44.8,265.2 43.9,255 43.7,246.1 C43.6,237.2 44.2,228.3 45.5,219.4 C46.8,210.5 49.2,199.5 51.7,192.7 C54.2,185.9 57.9,182.6 60.6,178.4 C63.3,174.2 64.4,169.6 67.7,167.7Z" fill="url(#gl0)"/>
<defs><linearGradient id="gt0" x1="0" y1="0" x2="0.3" y2="1"><stop offset="0.1" stop-color="#a3307e"/><stop offset="0.9" stop-color="#a3307e"/></linearGradient></defs>
<path d="M103.4,223 C104.6,220.6 108.1,222 110.5,224.7 C112.9,227.4 115.6,233.1 117.7,239 C119.8,244.9 121.8,253.9 123,260.4 C124.2,266.9 125.7,275.2 124.8,278.2 C123.9,281.2 120.1,280 117.7,278.2 C115.3,276.4 112.6,271.4 110.5,267.5 C108.4,263.6 106.4,259.9 105.2,255.1 C104,250.3 103.7,244.3 103.4,239 C103.1,233.7 102.2,225.4 103.4,223Z" fill="url(#gt0)"/>
<path d="M133.8,198 C135.2,198.2 136.8,202.9 138.3,205.9 C139.8,208.9 140.9,212.6 142.8,216.2 C144.7,219.8 148.1,223.6 149.6,227.6 C151.1,231.6 151.5,235.4 151.9,240.1 C152.3,244.8 151.3,250.5 151.9,256 C152.5,261.5 153.6,267.8 155.3,273.1 C157,278.4 160.3,283.1 162.1,287.9 C163.9,292.6 165.6,297.4 166,301.6 C166.4,305.8 165.9,310.1 164.5,313 C163.1,315.9 160.5,318.5 157.6,318.7 C154.7,318.9 150.7,316.6 147.3,314.1 C143.9,311.6 139.8,308.3 137.1,303.9 C134.4,299.5 132.9,294 131.4,287.9 C129.9,281.8 128.9,273.7 128,267.4 C127,261.1 126.7,255.6 125.7,250.3 C124.8,245 122.7,239.9 122.3,235.5 C121.9,231.1 122.5,227.7 123.4,224.1 C124.4,220.5 126.9,217.1 128,213.9 C129.1,210.7 129.2,207.5 130.2,204.8 C131.2,202.2 132.5,197.8 133.8,198Z" fill="url(#gm0)"/>
<path d="M171.2,207.8 C173.1,206.6 175.6,207.7 178.3,210.5 C181,213.3 184.2,219.9 187.2,224.7 C190.2,229.4 193.1,233.7 196.1,239 C199.1,244.3 202,251.8 205,256.8 C208,261.9 211.5,265.1 213.9,269.3 C216.3,273.5 219.9,279.7 219.3,281.8 C218.7,283.9 214.3,283 210.4,281.8 C206.5,280.6 200.6,277.4 196.1,274.7 C191.6,272 187.8,269.7 183.6,265.8 C179.4,261.9 174,256.9 171.2,251.5 C168.4,246.2 167.4,239.3 166.7,233.7 C165.9,228 165.9,221.9 166.7,217.6 C167.4,213.3 169.3,209 171.2,207.8Z" fill="url(#gf0)"/>
<path d="M233.5,267.5 L230,249.7 L228.2,231.9 L219.3,214 L205,199.8 L187.2,189.1 L169.4,174.8 L160.5,164 L153.3,151.5 L146.2,139.1 L142.6,124.8 L142.6,107 L139.1,94.5 L128.4,83.8 L115.9,71.3 L99.8,60.6 L83.8,51.7 L73.1,39.2 L69.3,42.5 L79.4,57.2 L95.1,68.3 L109.6,79.1 L120.6,91.6 L129.7,100.2 L132.7,108.1 L132.7,125.9 L137.8,142.4 L145.5,156 L153.1,169.1 L163.9,180.6 L183.2,194.8 L200.7,205.3 L214.4,217.5 L222.5,233.6 L225.1,250.4 L229.6,268.3Z" fill="#240a4c" filter="url(#sparse)"/>
<path d="M92.7,165.5 L97.5,178.4 L97.5,200 L92,217 L86.8,226 L89.4,227.5 L97.5,219.3 L105.4,201.1 L104.4,177.4 L95.5,164.5Z" fill="#3f0d7a" filter="url(#sparse)"/>
<path d="M133.8,198 L138.3,205.9 L142.8,216.2 L149.6,227.6 L151.9,240.1 L153.9,239.7 L154.3,225.8 L148.1,213.4 L142.8,203.7 L135.5,197Z" fill="#6a1c80" filter="url(#sparse)"/>
</g>
<g mask="url(#mshape)">
<rect x="0" y="0" width="312" height="335" fill="#000" filter="url(#speckD)" opacity="0.45" mask="url(#mdark)"/>
<rect x="0" y="0" width="312" height="335" fill="#000" filter="url(#speckD)" opacity="0.1575" mask="url(#mbright)"/>
<rect x="0" y="0" width="312" height="335" fill="#fff" filter="url(#speck)" opacity="0.55"/>
<g filter="url(#fringeF)"><use href="#fringeband"/></g>
</g>
</g>
<rect x="56" y="113.6" width="312.2" height="335" fill="none" stroke="#555" stroke-width="1.3"/>
<defs><linearGradient id="cb0" x1="0" y1="1" x2="0" y2="0">
<stop offset="0.00" stop-color="#000004"/>
<stop offset="0.10" stop-color="#140e36"/>
<stop offset="0.20" stop-color="#3b0f70"/>
<stop offset="0.30" stop-color="#641a80"/>
<stop offset="0.40" stop-color="#8c2981"/>
<stop offset="0.50" stop-color="#b73779"/>
<stop offset="0.60" stop-color="#de4968"/>
<stop offset="0.70" stop-color="#f7705c"/>
<stop offset="0.80" stop-color="#fe9f6d"/>
<stop offset="0.90" stop-color="#fecf92"/>
<stop offset="1.00" stop-color="#fcfdbf"/>
</linearGradient></defs>
<rect x="371.1" y="114.1" width="12" height="334.5" fill="url(#cb0)" stroke="#333" stroke-width="0.9"/>
<line x1="383.1" y1="137.5" x2="386.6" y2="137.5" stroke="#222" stroke-width="1"/>
<text x="392.1" y="146.5" class="tk">0.3</text>
<line x1="383.1" y1="241.3" x2="386.6" y2="241.3" stroke="#222" stroke-width="1"/>
<text x="392.1" y="250.3" class="tk">0.2</text>
<line x1="383.1" y1="345.2" x2="386.6" y2="345.2" stroke="#222" stroke-width="1"/>
<text x="392.1" y="354.2" class="tk">0.1</text>
<line x1="383.1" y1="449" x2="386.6" y2="449" stroke="#222" stroke-width="1"/>
<text x="392.1" y="458" class="tk">0.0</text>
<text x="212.1" y="106.6" class="ttl">Regulon(FOSL1(+))</text>
<text x="210.6" y="476.6" class="ax">UMAP1</text>
<text transform="translate(44,284.1) rotate(-90)" class="ax">UMAP2</text>
<defs>
<linearGradient id="gc1" gradientUnits="userSpaceOnUse" x1="150" y1="20" x2="275" y2="320"><stop offset="0" stop-color="#430e7a"/><stop offset="0.35" stop-color="#501180"/><stop offset="0.65" stop-color="#6c1a84"/><stop offset="0.85" stop-color="#8c2981"/><stop offset="1" stop-color="#a3307e"/></linearGradient>
<linearGradient id="gl1" x1="0" y1="0" x2="0.2" y2="1"><stop offset="0.2" stop-color="#3a1070"/><stop offset="0.25" stop-color="#3a1070"/><stop offset="1" stop-color="#a0307e"/></linearGradient>
<linearGradient id="gm1" x1="0" y1="0" x2="0.3" y2="1"><stop offset="0.05" stop-color="#7a2181"/><stop offset="0.55" stop-color="#dc526c"/><stop offset="0.95" stop-color="#fdc98b"/></linearGradient>
<linearGradient id="gf1" x1="0" y1="0" x2="0.4" y2="1"><stop offset="0.1" stop-color="#35106a"/><stop offset="1" stop-color="#5c177c"/></linearGradient>
<clipPath id="cc1"><path d="M73.1,35.7 C73.4,33.3 73.4,28 74.9,25 C76.4,22 78.7,19.2 82,17.8 C85.3,16.4 90.3,17.2 94.5,16.9 C98.7,16.6 102,15.8 107,16 C112,16.1 118.9,17.1 124.8,17.8 C130.7,18.6 136.7,18.7 142.6,20.5 C148.5,22.3 154.6,26 160.5,28.5 C166.4,31 173,33.6 178.3,35.7 C183.6,37.8 188.1,38.3 192.5,41 C196.9,43.7 199.9,48.1 205,51.7 C210.1,55.3 217,57.6 222.9,62.4 C228.8,67.2 235.3,74.5 240.7,80.2 C246,85.9 250.6,90.3 255,96.3 C259.4,102.2 263.5,108.8 267.4,115.9 C271.2,123 274.8,131.7 278.1,139.1 C281.4,146.5 284.6,154.6 287,160.5 C289.4,166.4 290.8,168 292.4,174.8 C294,181.7 295.9,192.7 296.8,201.6 C297.7,210.5 297.7,219.4 297.7,228.3 C297.7,237.2 297.7,246.2 296.8,255.1 C295.9,264 294.6,274.4 292.4,281.8 C290.2,289.2 286.8,294.6 283.5,299.6 C280.2,304.7 277,308.7 272.8,312.1 C268.6,315.5 262.7,319.1 258.5,320.1 C254.3,321.1 251.1,319.9 247.8,318.3 C244.5,316.7 241.3,313.4 238.9,310.3 C236.5,307.2 234.7,303.5 233.5,299.6 C232.3,295.7 233.4,289.5 231.5,287 C229.6,284.5 224.9,285.2 222,284.5 C219.1,283.8 214,283.7 214,283 C214,282.3 219,281.2 222,280.5 C225,279.8 230.1,281.2 232,279 C233.9,276.8 233.8,272.4 233.5,267.5 C233.2,262.6 230.9,255.6 230,249.7 C229.1,243.8 230,237.8 228.2,231.9 C226.4,226 223.2,219.3 219.3,214 C215.4,208.7 210.3,204 205,199.8 C199.7,195.7 193.1,193.3 187.2,189.1 C181.3,184.9 173.8,179 169.4,174.8 C165,170.6 163.2,167.9 160.5,164 C157.8,160.1 155.7,155.7 153.3,151.5 C150.9,147.3 148,143.5 146.2,139.1 C144.4,134.7 143.2,130.2 142.6,124.8 C142,119.5 143.2,112 142.6,107 C142,102 141.5,98.4 139.1,94.5 C136.7,90.6 132.3,87.7 128.4,83.8 C124.5,79.9 120.7,75.2 115.9,71.3 C111.1,67.4 105.2,63.9 99.8,60.6 C94.4,57.3 88.2,55.3 83.8,51.7 C79.3,48.1 74.9,41.9 73.1,39.2 C71.3,36.5 72.8,38.1 73.1,35.7Z"/></clipPath>
</defs>
<g transform="translate(511.5,113.7) scale(1.0026,0.9997)">
<g filter="url(#rough)">
<path d="M73.1,35.7 C73.4,33.3 73.4,28 74.9,25 C76.4,22 78.7,19.2 82,17.8 C85.3,16.4 90.3,17.2 94.5,16.9 C98.7,16.6 102,15.8 107,16 C112,16.1 118.9,17.1 124.8,17.8 C130.7,18.6 136.7,18.7 142.6,20.5 C148.5,22.3 154.6,26 160.5,28.5 C166.4,31 173,33.6 178.3,35.7 C183.6,37.8 188.1,38.3 192.5,41 C196.9,43.7 199.9,48.1 205,51.7 C210.1,55.3 217,57.6 222.9,62.4 C228.8,67.2 235.3,74.5 240.7,80.2 C246,85.9 250.6,90.3 255,96.3 C259.4,102.2 263.5,108.8 267.4,115.9 C271.2,123 274.8,131.7 278.1,139.1 C281.4,146.5 284.6,154.6 287,160.5 C289.4,166.4 290.8,168 292.4,174.8 C294,181.7 295.9,192.7 296.8,201.6 C297.7,210.5 297.7,219.4 297.7,228.3 C297.7,237.2 297.7,246.2 296.8,255.1 C295.9,264 294.6,274.4 292.4,281.8 C290.2,289.2 286.8,294.6 283.5,299.6 C280.2,304.7 277,308.7 272.8,312.1 C268.6,315.5 262.7,319.1 258.5,320.1 C254.3,321.1 251.1,319.9 247.8,318.3 C244.5,316.7 241.3,313.4 238.9,310.3 C236.5,307.2 234.7,303.5 233.5,299.6 C232.3,295.7 233.4,289.5 231.5,287 C229.6,284.5 224.9,285.2 222,284.5 C219.1,283.8 214,283.7 214,283 C214,282.3 219,281.2 222,280.5 C225,279.8 230.1,281.2 232,279 C233.9,276.8 233.8,272.4 233.5,267.5 C233.2,262.6 230.9,255.6 230,249.7 C229.1,243.8 230,237.8 228.2,231.9 C226.4,226 223.2,219.3 219.3,214 C215.4,208.7 210.3,204 205,199.8 C199.7,195.7 193.1,193.3 187.2,189.1 C181.3,184.9 173.8,179 169.4,174.8 C165,170.6 163.2,167.9 160.5,164 C157.8,160.1 155.7,155.7 153.3,151.5 C150.9,147.3 148,143.5 146.2,139.1 C144.4,134.7 143.2,130.2 142.6,124.8 C142,119.5 143.2,112 142.6,107 C142,102 141.5,98.4 139.1,94.5 C136.7,90.6 132.3,87.7 128.4,83.8 C124.5,79.9 120.7,75.2 115.9,71.3 C111.1,67.4 105.2,63.9 99.8,60.6 C94.4,57.3 88.2,55.3 83.8,51.7 C79.3,48.1 74.9,41.9 73.1,39.2 C71.3,36.5 72.8,38.1 73.1,35.7Z" fill="url(#gc1)"/>
<g clip-path="url(#cc1)"><path d="M219.3,214 C216.9,211.6 210.3,204 205,199.8 C199.7,195.7 193.1,193.3 187.2,189.1 C181.3,184.9 173.8,179 169.4,174.8 C165,170.6 163.2,167.9 160.5,164 C157.8,160.1 155.7,155.7 153.3,151.5 C150.9,147.3 148,143.5 146.2,139.1 C144.4,134.7 143.2,130.2 142.6,124.8 C142,119.5 143.2,112 142.6,107 C142,102 141.5,98.4 139.1,94.5 C136.7,90.6 132.3,87.7 128.4,83.8 C124.5,79.9 120.7,75.2 115.9,71.3 C111.1,67.4 105.2,63.9 99.8,60.6 C94.4,57.3 88.2,55.3 83.8,51.7 C79.3,48.1 72.9,39.5 73.1,39.2 C73.3,38.9 83,48.2 85,50" fill="none" stroke="#170835" stroke-width="40" stroke-opacity="0.85" filter="url(#blur6)"/>
<ellipse cx="88" cy="30" rx="22" ry="16" fill="#5a177c" opacity="0.5" filter="url(#blur6)"/>
</g>
<path d="M83.8,66 C85,64.2 88.8,61.5 92.7,62.4 C96.6,63.3 103.4,68.3 107,71.3 C110.6,74.3 113.8,77.5 114.1,80.2 C114.4,82.9 111.8,87.7 108.8,87.4 C105.8,87.1 100.2,80.8 96.3,78.4 C92.4,76 87.7,75.2 85.6,73.1 C83.5,71 82.6,67.8 83.8,66Z" fill="#55157a"/>
<path d="M14.3,86.5 C14.3,84.4 17.2,81.5 19.6,80.2 C22,78.9 25.5,78.4 28.5,78.4 C31.5,78.4 34.7,80.2 37.4,80.2 C40.1,80.2 41.9,79.8 44.6,78.4 C47.3,77.1 49.6,75.9 53.5,72.1 C57.4,68.2 65,57.8 67.7,55.3 C70.4,52.8 71.4,53.7 69.5,57 C67.6,60.3 59.6,70.4 56.3,74.9 C53,79.4 52.8,81.4 49.9,83.8 C47,86.2 41.6,87 39.2,89.1 C36.8,91.2 37.8,94.8 35.7,96.3 C33.6,97.8 29.4,98.6 26.7,98 C24,97.4 21.7,94.6 19.6,92.7 C17.5,90.8 14.3,88.6 14.3,86.5Z" fill="#6a1c80"/>
<path d="M79.3,107 C79,108.6 76.3,114 76.5,116.7 C76.7,119.4 79.9,120.8 80.2,123 C80.5,125.2 79.3,128 78.4,130.1 C77.5,132.2 76.7,134.9 74.9,135.5 C73.1,136.1 69.3,135.5 67.7,133.7 C66.1,131.9 65.1,127.2 65.1,124.8 C65.1,122.4 66.2,120.8 67.7,119.5 C69.2,118.2 72.3,118.8 74.1,116.7 C75.9,114.6 77.5,108.6 78.4,107 C79.3,105.4 79.6,105.4 79.3,107Z" fill="#5a177c"/>
<path d="M67.7,167.7 C71,165.8 76,167.2 80.2,166.8 C84.4,166.4 89.8,163.6 92.7,165.5 C95.6,167.4 96.7,172.7 97.5,178.4 C98.3,184.2 98.4,193.6 97.5,200 C96.6,206.4 93.8,212.7 92,217 C90.2,221.3 88.2,221.2 86.8,226 C85.4,230.8 84.6,239.2 83.8,246.1 C83,253 81.7,260.9 82,267.5 C82.3,274.1 83.5,279.1 85.6,285.4 C87.7,291.6 93.9,300.9 94.5,305 C95.1,309.1 91.8,309.1 89.1,310.3 C86.4,311.5 82.6,312.7 78.4,312.1 C74.2,311.5 68.4,310.1 64.2,306.8 C60.1,303.5 56.5,298.1 53.5,292.5 C50.5,286.9 48,280.6 46.4,272.9 C44.8,265.2 43.9,255 43.7,246.1 C43.6,237.2 44.2,228.3 45.5,219.4 C46.8,210.5 49.2,199.5 51.7,192.7 C54.2,185.9 57.9,182.6 60.6,178.4 C63.3,174.2 64.4,169.6 67.7,167.7Z" fill="url(#gl1)"/>
<defs><linearGradient id="gt1" x1="0" y1="0" x2="0.3" y2="1"><stop offset="0.1" stop-color="#7a2181"/><stop offset="0.9" stop-color="#e45a6c"/></linearGradient></defs>
<path d="M103.4,223 C104.6,220.6 108.1,222 110.5,224.7 C112.9,227.4 115.6,233.1 117.7,239 C119.8,244.9 121.8,253.9 123,260.4 C124.2,266.9 125.7,275.2 124.8,278.2 C123.9,281.2 120.1,280 117.7,278.2 C115.3,276.4 112.6,271.4 110.5,267.5 C108.4,263.6 106.4,259.9 105.2,255.1 C104,250.3 103.7,244.3 103.4,239 C103.1,233.7 102.2,225.4 103.4,223Z" fill="url(#gt1)"/>
<path d="M133.8,198 C135.2,198.2 136.8,202.9 138.3,205.9 C139.8,208.9 140.9,212.6 142.8,216.2 C144.7,219.8 148.1,223.6 149.6,227.6 C151.1,231.6 151.5,235.4 151.9,240.1 C152.3,244.8 151.3,250.5 151.9,256 C152.5,261.5 153.6,267.8 155.3,273.1 C157,278.4 160.3,283.1 162.1,287.9 C163.9,292.6 165.6,297.4 166,301.6 C166.4,305.8 165.9,310.1 164.5,313 C163.1,315.9 160.5,318.5 157.6,318.7 C154.7,318.9 150.7,316.6 147.3,314.1 C143.9,311.6 139.8,308.3 137.1,303.9 C134.4,299.5 132.9,294 131.4,287.9 C129.9,281.8 128.9,273.7 128,267.4 C127,261.1 126.7,255.6 125.7,250.3 C124.8,245 122.7,239.9 122.3,235.5 C121.9,231.1 122.5,227.7 123.4,224.1 C124.4,220.5 126.9,217.1 128,213.9 C129.1,210.7 129.2,207.5 130.2,204.8 C131.2,202.2 132.5,197.8 133.8,198Z" fill="url(#gm1)"/>
<path d="M171.2,207.8 C173.1,206.6 175.6,207.7 178.3,210.5 C181,213.3 184.2,219.9 187.2,224.7 C190.2,229.4 193.1,233.7 196.1,239 C199.1,244.3 202,251.8 205,256.8 C208,261.9 211.5,265.1 213.9,269.3 C216.3,273.5 219.9,279.7 219.3,281.8 C218.7,283.9 214.3,283 210.4,281.8 C206.5,280.6 200.6,277.4 196.1,274.7 C191.6,272 187.8,269.7 183.6,265.8 C179.4,261.9 174,256.9 171.2,251.5 C168.4,246.2 167.4,239.3 166.7,233.7 C165.9,228 165.9,221.9 166.7,217.6 C167.4,213.3 169.3,209 171.2,207.8Z" fill="url(#gf1)"/>
<path d="M233.5,267.5 L230,249.7 L228.2,231.9 L219.3,214 L205,199.8 L187.2,189.1 L169.4,174.8 L160.5,164 L153.3,151.5 L146.2,139.1 L142.6,124.8 L142.6,107 L139.1,94.5 L128.4,83.8 L115.9,71.3 L99.8,60.6 L83.8,51.7 L73.1,39.2 L69.3,42.5 L79.4,57.2 L95.1,68.3 L109.6,79.1 L120.6,91.6 L129.7,100.2 L132.7,108.1 L132.7,125.9 L137.8,142.4 L145.5,156 L153.1,169.1 L163.9,180.6 L183.2,194.8 L200.7,205.3 L214.4,217.5 L222.5,233.6 L225.1,250.4 L229.6,268.3Z" fill="#170835" filter="url(#sparse)"/>
<path d="M92.7,165.5 L97.5,178.4 L97.5,200 L92,217 L86.8,226 L89.4,227.5 L97.5,219.3 L105.4,201.1 L104.4,177.4 L95.5,164.5Z" fill="#3a1070" filter="url(#sparse)"/>
<path d="M133.8,198 L138.3,205.9 L142.8,216.2 L149.6,227.6 L151.9,240.1 L153.9,239.7 L154.3,225.8 L148.1,213.4 L142.8,203.7 L135.5,197Z" fill="#7a2181" filter="url(#sparse)"/>
</g>
<g mask="url(#mshape)">
<rect x="0" y="0" width="312" height="335" fill="#000" filter="url(#speckD)" opacity="0.55" mask="url(#mdark)"/>
<rect x="0" y="0" width="312" height="335" fill="#000" filter="url(#speckD)" opacity="0.1925" mask="url(#mbright)"/>
<rect x="0" y="0" width="312" height="335" fill="#c83f73" filter="url(#speckC)" opacity="0.3"/>
<rect x="0" y="0" width="312" height="335" fill="#fff" filter="url(#speck)" opacity="0.55"/>
<g filter="url(#fringeF)"><use href="#fringeband"/></g>
</g>
</g>
<rect x="511.5" y="113.7" width="313.2" height="335.3" fill="none" stroke="#555" stroke-width="1.3"/>
<defs><linearGradient id="cb1" x1="0" y1="1" x2="0" y2="0">
<stop offset="0.00" stop-color="#000004"/>
<stop offset="0.10" stop-color="#140e36"/>
<stop offset="0.20" stop-color="#3b0f70"/>
<stop offset="0.30" stop-color="#641a80"/>
<stop offset="0.40" stop-color="#8c2981"/>
<stop offset="0.50" stop-color="#b73779"/>
<stop offset="0.60" stop-color="#de4968"/>
<stop offset="0.70" stop-color="#f7705c"/>
<stop offset="0.80" stop-color="#fe9f6d"/>
<stop offset="0.90" stop-color="#fecf92"/>
<stop offset="1.00" stop-color="#fcfdbf"/>
</linearGradient></defs>
<rect x="827.6" y="114.2" width="12" height="334.8" fill="url(#cb1)" stroke="#333" stroke-width="0.9"/>
<line x1="839.6" y1="164.1" x2="843.1" y2="164.1" stroke="#222" stroke-width="1"/>
<text x="848.6" y="173.1" class="tk">0.25</text>
<line x1="839.6" y1="225.7" x2="843.1" y2="225.7" stroke="#222" stroke-width="1"/>
<text x="848.6" y="234.7" class="tk">0.20</text>
<line x1="839.6" y1="286.9" x2="843.1" y2="286.9" stroke="#222" stroke-width="1"/>
<text x="848.6" y="295.9" class="tk">0.15</text>
<line x1="839.6" y1="347.5" x2="843.1" y2="347.5" stroke="#222" stroke-width="1"/>
<text x="848.6" y="356.5" class="tk">0.10</text>
<line x1="839.6" y1="408.8" x2="843.1" y2="408.8" stroke="#222" stroke-width="1"/>
<text x="848.6" y="417.8" class="tk">0.05</text>
<text x="668.1" y="106.7" class="ttl">Regulon(SP6(+))</text>
<text x="666.6" y="477" class="ax">UMAP1</text>
<text transform="translate(499.5,284.4) rotate(-90)" class="ax">UMAP2</text>
<defs>
<linearGradient id="gc2" gradientUnits="userSpaceOnUse" x1="150" y1="20" x2="275" y2="320"><stop offset="0" stop-color="#5a147e"/><stop offset="0.45" stop-color="#4c127e"/><stop offset="0.64" stop-color="#66198a"/><stop offset="0.76" stop-color="#982d7f"/><stop offset="0.87" stop-color="#d84e6c"/><stop offset="1" stop-color="#f8875f"/></linearGradient>
<linearGradient id="gl2" x1="0" y1="0" x2="0.2" y2="1"><stop offset="0.2" stop-color="#3c1070"/><stop offset="0.68" stop-color="#55157a"/><stop offset="1" stop-color="#dd556a"/></linearGradient>
<linearGradient id="gm2" x1="0" y1="0" x2="0.3" y2="1"><stop offset="0.05" stop-color="#9a2e7e"/><stop offset="0.55" stop-color="#e0556c"/><stop offset="0.95" stop-color="#fca56c"/></linearGradient>
<linearGradient id="gf2" x1="0" y1="0" x2="0.4" y2="1"><stop offset="0.1" stop-color="#2d0e5a"/><stop offset="1" stop-color="#9a2e7e"/></linearGradient>
<clipPath id="cc2"><path d="M73.1,35.7 C73.4,33.3 73.4,28 74.9,25 C76.4,22 78.7,19.2 82,17.8 C85.3,16.4 90.3,17.2 94.5,16.9 C98.7,16.6 102,15.8 107,16 C112,16.1 118.9,17.1 124.8,17.8 C130.7,18.6 136.7,18.7 142.6,20.5 C148.5,22.3 154.6,26 160.5,28.5 C166.4,31 173,33.6 178.3,35.7 C183.6,37.8 188.1,38.3 192.5,41 C196.9,43.7 199.9,48.1 205,51.7 C210.1,55.3 217,57.6 222.9,62.4 C228.8,67.2 235.3,74.5 240.7,80.2 C246,85.9 250.6,90.3 255,96.3 C259.4,102.2 263.5,108.8 267.4,115.9 C271.2,123 274.8,131.7 278.1,139.1 C281.4,146.5 284.6,154.6 287,160.5 C289.4,166.4 290.8,168 292.4,174.8 C294,181.7 295.9,192.7 296.8,201.6 C297.7,210.5 297.7,219.4 297.7,228.3 C297.7,237.2 297.7,246.2 296.8,255.1 C295.9,264 294.6,274.4 292.4,281.8 C290.2,289.2 286.8,294.6 283.5,299.6 C280.2,304.7 277,308.7 272.8,312.1 C268.6,315.5 262.7,319.1 258.5,320.1 C254.3,321.1 251.1,319.9 247.8,318.3 C244.5,316.7 241.3,313.4 238.9,310.3 C236.5,307.2 234.7,303.5 233.5,299.6 C232.3,295.7 233.4,289.5 231.5,287 C229.6,284.5 224.9,285.2 222,284.5 C219.1,283.8 214,283.7 214,283 C214,282.3 219,281.2 222,280.5 C225,279.8 230.1,281.2 232,279 C233.9,276.8 233.8,272.4 233.5,267.5 C233.2,262.6 230.9,255.6 230,249.7 C229.1,243.8 230,237.8 228.2,231.9 C226.4,226 223.2,219.3 219.3,214 C215.4,208.7 210.3,204 205,199.8 C199.7,195.7 193.1,193.3 187.2,189.1 C181.3,184.9 173.8,179 169.4,174.8 C165,170.6 163.2,167.9 160.5,164 C157.8,160.1 155.7,155.7 153.3,151.5 C150.9,147.3 148,143.5 146.2,139.1 C144.4,134.7 143.2,130.2 142.6,124.8 C142,119.5 143.2,112 142.6,107 C142,102 141.5,98.4 139.1,94.5 C136.7,90.6 132.3,87.7 128.4,83.8 C124.5,79.9 120.7,75.2 115.9,71.3 C111.1,67.4 105.2,63.9 99.8,60.6 C94.4,57.3 88.2,55.3 83.8,51.7 C79.3,48.1 74.9,41.9 73.1,39.2 C71.3,36.5 72.8,38.1 73.1,35.7Z"/></clipPath>
</defs>
<g transform="translate(56.5,538.9) scale(0.9984,0.9967)">
<g filter="url(#rough)">
<path d="M73.1,35.7 C73.4,33.3 73.4,28 74.9,25 C76.4,22 78.7,19.2 82,17.8 C85.3,16.4 90.3,17.2 94.5,16.9 C98.7,16.6 102,15.8 107,16 C112,16.1 118.9,17.1 124.8,17.8 C130.7,18.6 136.7,18.7 142.6,20.5 C148.5,22.3 154.6,26 160.5,28.5 C166.4,31 173,33.6 178.3,35.7 C183.6,37.8 188.1,38.3 192.5,41 C196.9,43.7 199.9,48.1 205,51.7 C210.1,55.3 217,57.6 222.9,62.4 C228.8,67.2 235.3,74.5 240.7,80.2 C246,85.9 250.6,90.3 255,96.3 C259.4,102.2 263.5,108.8 267.4,115.9 C271.2,123 274.8,131.7 278.1,139.1 C281.4,146.5 284.6,154.6 287,160.5 C289.4,166.4 290.8,168 292.4,174.8 C294,181.7 295.9,192.7 296.8,201.6 C297.7,210.5 297.7,219.4 297.7,228.3 C297.7,237.2 297.7,246.2 296.8,255.1 C295.9,264 294.6,274.4 292.4,281.8 C290.2,289.2 286.8,294.6 283.5,299.6 C280.2,304.7 277,308.7 272.8,312.1 C268.6,315.5 262.7,319.1 258.5,320.1 C254.3,321.1 251.1,319.9 247.8,318.3 C244.5,316.7 241.3,313.4 238.9,310.3 C236.5,307.2 234.7,303.5 233.5,299.6 C232.3,295.7 233.4,289.5 231.5,287 C229.6,284.5 224.9,285.2 222,284.5 C219.1,283.8 214,283.7 214,283 C214,282.3 219,281.2 222,280.5 C225,279.8 230.1,281.2 232,279 C233.9,276.8 233.8,272.4 233.5,267.5 C233.2,262.6 230.9,255.6 230,249.7 C229.1,243.8 230,237.8 228.2,231.9 C226.4,226 223.2,219.3 219.3,214 C215.4,208.7 210.3,204 205,199.8 C199.7,195.7 193.1,193.3 187.2,189.1 C181.3,184.9 173.8,179 169.4,174.8 C165,170.6 163.2,167.9 160.5,164 C157.8,160.1 155.7,155.7 153.3,151.5 C150.9,147.3 148,143.5 146.2,139.1 C144.4,134.7 143.2,130.2 142.6,124.8 C142,119.5 143.2,112 142.6,107 C142,102 141.5,98.4 139.1,94.5 C136.7,90.6 132.3,87.7 128.4,83.8 C124.5,79.9 120.7,75.2 115.9,71.3 C111.1,67.4 105.2,63.9 99.8,60.6 C94.4,57.3 88.2,55.3 83.8,51.7 C79.3,48.1 74.9,41.9 73.1,39.2 C71.3,36.5 72.8,38.1 73.1,35.7Z" fill="url(#gc2)"/>
<g clip-path="url(#cc2)"><path d="M219.3,214 C216.9,211.6 210.3,204 205,199.8 C199.7,195.7 193.1,193.3 187.2,189.1 C181.3,184.9 173.8,179 169.4,174.8 C165,170.6 163.2,167.9 160.5,164 C157.8,160.1 155.7,155.7 153.3,151.5 C150.9,147.3 148,143.5 146.2,139.1 C144.4,134.7 143.2,130.2 142.6,124.8 C142,119.5 143.2,112 142.6,107 C142,102 141.5,98.4 139.1,94.5 C136.7,90.6 132.3,87.7 128.4,83.8 C124.5,79.9 120.7,75.2 115.9,71.3 C111.1,67.4 105.2,63.9 99.8,60.6 C94.4,57.3 88.2,55.3 83.8,51.7 C79.3,48.1 72.9,39.5 73.1,39.2 C73.3,38.9 83,48.2 85,50" fill="none" stroke="#1a0940" stroke-width="34" stroke-opacity="0.8" filter="url(#blur6)"/>
<ellipse cx="88" cy="30" rx="22" ry="16" fill="#7a2181" opacity="0.7" filter="url(#blur6)"/>
</g>
<path d="M83.8,66 C85,64.2 88.8,61.5 92.7,62.4 C96.6,63.3 103.4,68.3 107,71.3 C110.6,74.3 113.8,77.5 114.1,80.2 C114.4,82.9 111.8,87.7 108.8,87.4 C105.8,87.1 100.2,80.8 96.3,78.4 C92.4,76 87.7,75.2 85.6,73.1 C83.5,71 82.6,67.8 83.8,66Z" fill="#6a1c80"/>
<path d="M14.3,86.5 C14.3,84.4 17.2,81.5 19.6,80.2 C22,78.9 25.5,78.4 28.5,78.4 C31.5,78.4 34.7,80.2 37.4,80.2 C40.1,80.2 41.9,79.8 44.6,78.4 C47.3,77.1 49.6,75.9 53.5,72.1 C57.4,68.2 65,57.8 67.7,55.3 C70.4,52.8 71.4,53.7 69.5,57 C67.6,60.3 59.6,70.4 56.3,74.9 C53,79.4 52.8,81.4 49.9,83.8 C47,86.2 41.6,87 39.2,89.1 C36.8,91.2 37.8,94.8 35.7,96.3 C33.6,97.8 29.4,98.6 26.7,98 C24,97.4 21.7,94.6 19.6,92.7 C17.5,90.8 14.3,88.6 14.3,86.5Z" fill="#6a1c80"/>
<path d="M79.3,107 C79,108.6 76.3,114 76.5,116.7 C76.7,119.4 79.9,120.8 80.2,123 C80.5,125.2 79.3,128 78.4,130.1 C77.5,132.2 76.7,134.9 74.9,135.5 C73.1,136.1 69.3,135.5 67.7,133.7 C66.1,131.9 65.1,127.2 65.1,124.8 C65.1,122.4 66.2,120.8 67.7,119.5 C69.2,118.2 72.3,118.8 74.1,116.7 C75.9,114.6 77.5,108.6 78.4,107 C79.3,105.4 79.6,105.4 79.3,107Z" fill="#5c177c"/>
<path d="M67.7,167.7 C71,165.8 76,167.2 80.2,166.8 C84.4,166.4 89.8,163.6 92.7,165.5 C95.6,167.4 96.7,172.7 97.5,178.4 C98.3,184.2 98.4,193.6 97.5,200 C96.6,206.4 93.8,212.7 92,217 C90.2,221.3 88.2,221.2 86.8,226 C85.4,230.8 84.6,239.2 83.8,246.1 C83,253 81.7,260.9 82,267.5 C82.3,274.1 83.5,279.1 85.6,285.4 C87.7,291.6 93.9,300.9 94.5,305 C95.1,309.1 91.8,309.1 89.1,310.3 C86.4,311.5 82.6,312.7 78.4,312.1 C74.2,311.5 68.4,310.1 64.2,306.8 C60.1,303.5 56.5,298.1 53.5,292.5 C50.5,286.9 48,280.6 46.4,272.9 C44.8,265.2 43.9,255 43.7,246.1 C43.6,237.2 44.2,228.3 45.5,219.4 C46.8,210.5 49.2,199.5 51.7,192.7 C54.2,185.9 57.9,182.6 60.6,178.4 C63.3,174.2 64.4,169.6 67.7,167.7Z" fill="url(#gl2)"/>
<defs><linearGradient id="gt2" x1="0" y1="0" x2="0.3" y2="1"><stop offset="0.1" stop-color="#d24e6d"/><stop offset="0.9" stop-color="#d24e6d"/></linearGradient></defs>
<path d="M103.4,223 C104.6,220.6 108.1,222 110.5,224.7 C112.9,227.4 115.6,233.1 117.7,239 C119.8,244.9 121.8,253.9 123,260.4 C124.2,266.9 125.7,275.2 124.8,278.2 C123.9,281.2 120.1,280 117.7,278.2 C115.3,276.4 112.6,271.4 110.5,267.5 C108.4,263.6 106.4,259.9 105.2,255.1 C104,250.3 103.7,244.3 103.4,239 C103.1,233.7 102.2,225.4 103.4,223Z" fill="url(#gt2)"/>
<path d="M133.8,198 C135.2,198.2 136.8,202.9 138.3,205.9 C139.8,208.9 140.9,212.6 142.8,216.2 C144.7,219.8 148.1,223.6 149.6,227.6 C151.1,231.6 151.5,235.4 151.9,240.1 C152.3,244.8 151.3,250.5 151.9,256 C152.5,261.5 153.6,267.8 155.3,273.1 C157,278.4 160.3,283.1 162.1,287.9 C163.9,292.6 165.6,297.4 166,301.6 C166.4,305.8 165.9,310.1 164.5,313 C163.1,315.9 160.5,318.5 157.6,318.7 C154.7,318.9 150.7,316.6 147.3,314.1 C143.9,311.6 139.8,308.3 137.1,303.9 C134.4,299.5 132.9,294 131.4,287.9 C129.9,281.8 128.9,273.7 128,267.4 C127,261.1 126.7,255.6 125.7,250.3 C124.8,245 122.7,239.9 122.3,235.5 C121.9,231.1 122.5,227.7 123.4,224.1 C124.4,220.5 126.9,217.1 128,213.9 C129.1,210.7 129.2,207.5 130.2,204.8 C131.2,202.2 132.5,197.8 133.8,198Z" fill="url(#gm2)"/>
<path d="M171.2,207.8 C173.1,206.6 175.6,207.7 178.3,210.5 C181,213.3 184.2,219.9 187.2,224.7 C190.2,229.4 193.1,233.7 196.1,239 C199.1,244.3 202,251.8 205,256.8 C208,261.9 211.5,265.1 213.9,269.3 C216.3,273.5 219.9,279.7 219.3,281.8 C218.7,283.9 214.3,283 210.4,281.8 C206.5,280.6 200.6,277.4 196.1,274.7 C191.6,272 187.8,269.7 183.6,265.8 C179.4,261.9 174,256.9 171.2,251.5 C168.4,246.2 167.4,239.3 166.7,233.7 C165.9,228 165.9,221.9 166.7,217.6 C167.4,213.3 169.3,209 171.2,207.8Z" fill="url(#gf2)"/>
<path d="M233.5,267.5 L230,249.7 L228.2,231.9 L219.3,214 L205,199.8 L187.2,189.1 L169.4,174.8 L160.5,164 L153.3,151.5 L146.2,139.1 L142.6,124.8 L142.6,107 L139.1,94.5 L128.4,83.8 L115.9,71.3 L99.8,60.6 L83.8,51.7 L73.1,39.2 L69.3,42.5 L79.4,57.2 L95.1,68.3 L109.6,79.1 L120.6,91.6 L129.7,100.2 L132.7,108.1 L132.7,125.9 L137.8,142.4 L145.5,156 L153.1,169.1 L163.9,180.6 L183.2,194.8 L200.7,205.3 L214.4,217.5 L222.5,233.6 L225.1,250.4 L229.6,268.3Z" fill="#1a0940" filter="url(#sparse)"/>
<path d="M92.7,165.5 L97.5,178.4 L97.5,200 L92,217 L86.8,226 L89.4,227.5 L97.5,219.3 L105.4,201.1 L104.4,177.4 L95.5,164.5Z" fill="#3c1070" filter="url(#sparse)"/>
<path d="M133.8,198 L138.3,205.9 L142.8,216.2 L149.6,227.6 L151.9,240.1 L153.9,239.7 L154.3,225.8 L148.1,213.4 L142.8,203.7 L135.5,197Z" fill="#9a2e7e" filter="url(#sparse)"/>
</g>
<g mask="url(#mshape)">
<rect x="0" y="0" width="312" height="335" fill="#000" filter="url(#speckD)" opacity="0.42" mask="url(#mdark)"/>
<rect x="0" y="0" width="312" height="335" fill="#000" filter="url(#speckD)" opacity="0.147" mask="url(#mbright)"/>
<rect x="0" y="0" width="312" height="335" fill="#f57a5f" filter="url(#speckC)" opacity="0.28"/>
<rect x="0" y="0" width="312" height="335" fill="#fff" filter="url(#speck)" opacity="0.55"/>
<g filter="url(#fringeF)"><use href="#fringeband"/></g>
</g>
</g>
<rect x="56.5" y="538.9" width="311.9" height="334.3" fill="none" stroke="#555" stroke-width="1.3"/>
<defs><linearGradient id="cb2" x1="0" y1="1" x2="0" y2="0">
<stop offset="0.00" stop-color="#000004"/>
<stop offset="0.10" stop-color="#140e36"/>
<stop offset="0.20" stop-color="#3b0f70"/>
<stop offset="0.30" stop-color="#641a80"/>
<stop offset="0.40" stop-color="#8c2981"/>
<stop offset="0.50" stop-color="#b73779"/>
<stop offset="0.60" stop-color="#de4968"/>
<stop offset="0.70" stop-color="#f7705c"/>
<stop offset="0.80" stop-color="#fe9f6d"/>
<stop offset="0.90" stop-color="#fecf92"/>
<stop offset="1.00" stop-color="#fcfdbf"/>
</linearGradient></defs>
<rect x="371.3" y="539.4" width="12" height="333.8" fill="url(#cb2)" stroke="#333" stroke-width="0.9"/>
<line x1="383.3" y1="553.6" x2="386.8" y2="553.6" stroke="#222" stroke-width="1"/>
<text x="392.3" y="562.6" class="tk">0.20</text>
<line x1="383.3" y1="634" x2="386.8" y2="634" stroke="#222" stroke-width="1"/>
<text x="392.3" y="643" class="tk">0.15</text>
<line x1="383.3" y1="715.3" x2="386.8" y2="715.3" stroke="#222" stroke-width="1"/>
<text x="392.3" y="724.3" class="tk">0.10</text>
<line x1="383.3" y1="796" x2="386.8" y2="796" stroke="#222" stroke-width="1"/>
<text x="392.3" y="805" class="tk">0.05</text>
<text x="212.4" y="531.9" class="ttl">Regulon(KLF16(+))</text>
<text x="210.9" y="901.2" class="ax">UMAP1</text>
<text transform="translate(44.5,709) rotate(-90)" class="ax">UMAP2</text>
<defs>
<linearGradient id="gc3" gradientUnits="userSpaceOnUse" x1="150" y1="20" x2="275" y2="320"><stop offset="0" stop-color="#440b82"/><stop offset="0.45" stop-color="#3c0a78"/><stop offset="0.8" stop-color="#3e0a7a"/><stop offset="1" stop-color="#460e7e"/></linearGradient>
<linearGradient id="gl3" x1="0" y1="0" x2="0.2" y2="1"><stop offset="0.2" stop-color="#52137e"/><stop offset="0.5" stop-color="#7e2282"/><stop offset="1" stop-color="#a8327d"/></linearGradient>
<linearGradient id="gm3" x1="0" y1="0" x2="0.3" y2="1"><stop offset="0.05" stop-color="#c33c74"/><stop offset="0.55" stop-color="#e8616a"/><stop offset="0.95" stop-color="#f47a5f"/></linearGradient>
<linearGradient id="gf3" x1="0" y1="0" x2="0.4" y2="1"><stop offset="0.1" stop-color="#1f0b45"/><stop offset="1" stop-color="#2e0d5e"/></linearGradient>
<clipPath id="cc3"><path d="M73.1,35.7 C73.4,33.3 73.4,28 74.9,25 C76.4,22 78.7,19.2 82,17.8 C85.3,16.4 90.3,17.2 94.5,16.9 C98.7,16.6 102,15.8 107,16 C112,16.1 118.9,17.1 124.8,17.8 C130.7,18.6 136.7,18.7 142.6,20.5 C148.5,22.3 154.6,26 160.5,28.5 C166.4,31 173,33.6 178.3,35.7 C183.6,37.8 188.1,38.3 192.5,41 C196.9,43.7 199.9,48.1 205,51.7 C210.1,55.3 217,57.6 222.9,62.4 C228.8,67.2 235.3,74.5 240.7,80.2 C246,85.9 250.6,90.3 255,96.3 C259.4,102.2 263.5,108.8 267.4,115.9 C271.2,123 274.8,131.7 278.1,139.1 C281.4,146.5 284.6,154.6 287,160.5 C289.4,166.4 290.8,168 292.4,174.8 C294,181.7 295.9,192.7 296.8,201.6 C297.7,210.5 297.7,219.4 297.7,228.3 C297.7,237.2 297.7,246.2 296.8,255.1 C295.9,264 294.6,274.4 292.4,281.8 C290.2,289.2 286.8,294.6 283.5,299.6 C280.2,304.7 277,308.7 272.8,312.1 C268.6,315.5 262.7,319.1 258.5,320.1 C254.3,321.1 251.1,319.9 247.8,318.3 C244.5,316.7 241.3,313.4 238.9,310.3 C236.5,307.2 234.7,303.5 233.5,299.6 C232.3,295.7 233.4,289.5 231.5,287 C229.6,284.5 224.9,285.2 222,284.5 C219.1,283.8 214,283.7 214,283 C214,282.3 219,281.2 222,280.5 C225,279.8 230.1,281.2 232,279 C233.9,276.8 233.8,272.4 233.5,267.5 C233.2,262.6 230.9,255.6 230,249.7 C229.1,243.8 230,237.8 228.2,231.9 C226.4,226 223.2,219.3 219.3,214 C215.4,208.7 210.3,204 205,199.8 C199.7,195.7 193.1,193.3 187.2,189.1 C181.3,184.9 173.8,179 169.4,174.8 C165,170.6 163.2,167.9 160.5,164 C157.8,160.1 155.7,155.7 153.3,151.5 C150.9,147.3 148,143.5 146.2,139.1 C144.4,134.7 143.2,130.2 142.6,124.8 C142,119.5 143.2,112 142.6,107 C142,102 141.5,98.4 139.1,94.5 C136.7,90.6 132.3,87.7 128.4,83.8 C124.5,79.9 120.7,75.2 115.9,71.3 C111.1,67.4 105.2,63.9 99.8,60.6 C94.4,57.3 88.2,55.3 83.8,51.7 C79.3,48.1 74.9,41.9 73.1,39.2 C71.3,36.5 72.8,38.1 73.1,35.7Z"/></clipPath>
</defs>
<g transform="translate(511.5,538.9) scale(1.0026,0.9967)">
<g filter="url(#rough)">
<path d="M73.1,35.7 C73.4,33.3 73.4,28 74.9,25 C76.4,22 78.7,19.2 82,17.8 C85.3,16.4 90.3,17.2 94.5,16.9 C98.7,16.6 102,15.8 107,16 C112,16.1 118.9,17.1 124.8,17.8 C130.7,18.6 136.7,18.7 142.6,20.5 C148.5,22.3 154.6,26 160.5,28.5 C166.4,31 173,33.6 178.3,35.7 C183.6,37.8 188.1,38.3 192.5,41 C196.9,43.7 199.9,48.1 205,51.7 C210.1,55.3 217,57.6 222.9,62.4 C228.8,67.2 235.3,74.5 240.7,80.2 C246,85.9 250.6,90.3 255,96.3 C259.4,102.2 263.5,108.8 267.4,115.9 C271.2,123 274.8,131.7 278.1,139.1 C281.4,146.5 284.6,154.6 287,160.5 C289.4,166.4 290.8,168 292.4,174.8 C294,181.7 295.9,192.7 296.8,201.6 C297.7,210.5 297.7,219.4 297.7,228.3 C297.7,237.2 297.7,246.2 296.8,255.1 C295.9,264 294.6,274.4 292.4,281.8 C290.2,289.2 286.8,294.6 283.5,299.6 C280.2,304.7 277,308.7 272.8,312.1 C268.6,315.5 262.7,319.1 258.5,320.1 C254.3,321.1 251.1,319.9 247.8,318.3 C244.5,316.7 241.3,313.4 238.9,310.3 C236.5,307.2 234.7,303.5 233.5,299.6 C232.3,295.7 233.4,289.5 231.5,287 C229.6,284.5 224.9,285.2 222,284.5 C219.1,283.8 214,283.7 214,283 C214,282.3 219,281.2 222,280.5 C225,279.8 230.1,281.2 232,279 C233.9,276.8 233.8,272.4 233.5,267.5 C233.2,262.6 230.9,255.6 230,249.7 C229.1,243.8 230,237.8 228.2,231.9 C226.4,226 223.2,219.3 219.3,214 C215.4,208.7 210.3,204 205,199.8 C199.7,195.7 193.1,193.3 187.2,189.1 C181.3,184.9 173.8,179 169.4,174.8 C165,170.6 163.2,167.9 160.5,164 C157.8,160.1 155.7,155.7 153.3,151.5 C150.9,147.3 148,143.5 146.2,139.1 C144.4,134.7 143.2,130.2 142.6,124.8 C142,119.5 143.2,112 142.6,107 C142,102 141.5,98.4 139.1,94.5 C136.7,90.6 132.3,87.7 128.4,83.8 C124.5,79.9 120.7,75.2 115.9,71.3 C111.1,67.4 105.2,63.9 99.8,60.6 C94.4,57.3 88.2,55.3 83.8,51.7 C79.3,48.1 74.9,41.9 73.1,39.2 C71.3,36.5 72.8,38.1 73.1,35.7Z" fill="url(#gc3)"/>
<g clip-path="url(#cc3)"><path d="M219.3,214 C216.9,211.6 210.3,204 205,199.8 C199.7,195.7 193.1,193.3 187.2,189.1 C181.3,184.9 173.8,179 169.4,174.8 C165,170.6 163.2,167.9 160.5,164 C157.8,160.1 155.7,155.7 153.3,151.5 C150.9,147.3 148,143.5 146.2,139.1 C144.4,134.7 143.2,130.2 142.6,124.8 C142,119.5 143.2,112 142.6,107 C142,102 141.5,98.4 139.1,94.5 C136.7,90.6 132.3,87.7 128.4,83.8 C124.5,79.9 120.7,75.2 115.9,71.3 C111.1,67.4 105.2,63.9 99.8,60.6 C94.4,57.3 88.2,55.3 83.8,51.7 C79.3,48.1 72.9,39.5 73.1,39.2 C73.3,38.9 83,48.2 85,50" fill="none" stroke="#160832" stroke-width="26" stroke-opacity="0.6" filter="url(#blur6)"/>
<ellipse cx="104" cy="44" rx="26" ry="9" fill="#b73779" opacity="0.55" filter="url(#blur6)"/>
</g>
<path d="M83.8,66 C85,64.2 88.8,61.5 92.7,62.4 C96.6,63.3 103.4,68.3 107,71.3 C110.6,74.3 113.8,77.5 114.1,80.2 C114.4,82.9 111.8,87.7 108.8,87.4 C105.8,87.1 100.2,80.8 96.3,78.4 C92.4,76 87.7,75.2 85.6,73.1 C83.5,71 82.6,67.8 83.8,66Z" fill="#8c2981"/>
<path d="M14.3,86.5 C14.3,84.4 17.2,81.5 19.6,80.2 C22,78.9 25.5,78.4 28.5,78.4 C31.5,78.4 34.7,80.2 37.4,80.2 C40.1,80.2 41.9,79.8 44.6,78.4 C47.3,77.1 49.6,75.9 53.5,72.1 C57.4,68.2 65,57.8 67.7,55.3 C70.4,52.8 71.4,53.7 69.5,57 C67.6,60.3 59.6,70.4 56.3,74.9 C53,79.4 52.8,81.4 49.9,83.8 C47,86.2 41.6,87 39.2,89.1 C36.8,91.2 37.8,94.8 35.7,96.3 C33.6,97.8 29.4,98.6 26.7,98 C24,97.4 21.7,94.6 19.6,92.7 C17.5,90.8 14.3,88.6 14.3,86.5Z" fill="#7a2181"/>
<path d="M79.3,107 C79,108.6 76.3,114 76.5,116.7 C76.7,119.4 79.9,120.8 80.2,123 C80.5,125.2 79.3,128 78.4,130.1 C77.5,132.2 76.7,134.9 74.9,135.5 C73.1,136.1 69.3,135.5 67.7,133.7 C66.1,131.9 65.1,127.2 65.1,124.8 C65.1,122.4 66.2,120.8 67.7,119.5 C69.2,118.2 72.3,118.8 74.1,116.7 C75.9,114.6 77.5,108.6 78.4,107 C79.3,105.4 79.6,105.4 79.3,107Z" fill="#6a1c80"/>
<path d="M67.7,167.7 C71,165.8 76,167.2 80.2,166.8 C84.4,166.4 89.8,163.6 92.7,165.5 C95.6,167.4 96.7,172.7 97.5,178.4 C98.3,184.2 98.4,193.6 97.5,200 C96.6,206.4 93.8,212.7 92,217 C90.2,221.3 88.2,221.2 86.8,226 C85.4,230.8 84.6,239.2 83.8,246.1 C83,253 81.7,260.9 82,267.5 C82.3,274.1 83.5,279.1 85.6,285.4 C87.7,291.6 93.9,300.9 94.5,305 C95.1,309.1 91.8,309.1 89.1,310.3 C86.4,311.5 82.6,312.7 78.4,312.1 C74.2,311.5 68.4,310.1 64.2,306.8 C60.1,303.5 56.5,298.1 53.5,292.5 C50.5,286.9 48,280.6 46.4,272.9 C44.8,265.2 43.9,255 43.7,246.1 C43.6,237.2 44.2,228.3 45.5,219.4 C46.8,210.5 49.2,199.5 51.7,192.7 C54.2,185.9 57.9,182.6 60.6,178.4 C63.3,174.2 64.4,169.6 67.7,167.7Z" fill="url(#gl3)"/>
<defs><linearGradient id="gt3" x1="0" y1="0" x2="0.3" y2="1"><stop offset="0.1" stop-color="#ef6b60"/><stop offset="0.9" stop-color="#ef6b60"/></linearGradient></defs>
<path d="M103.4,223 C104.6,220.6 108.1,222 110.5,224.7 C112.9,227.4 115.6,233.1 117.7,239 C119.8,244.9 121.8,253.9 123,260.4 C124.2,266.9 125.7,275.2 124.8,278.2 C123.9,281.2 120.1,280 117.7,278.2 C115.3,276.4 112.6,271.4 110.5,267.5 C108.4,263.6 106.4,259.9 105.2,255.1 C104,250.3 103.7,244.3 103.4,239 C103.1,233.7 102.2,225.4 103.4,223Z" fill="url(#gt3)"/>
<path d="M133.8,198 C135.2,198.2 136.8,202.9 138.3,205.9 C139.8,208.9 140.9,212.6 142.8,216.2 C144.7,219.8 148.1,223.6 149.6,227.6 C151.1,231.6 151.5,235.4 151.9,240.1 C152.3,244.8 151.3,250.5 151.9,256 C152.5,261.5 153.6,267.8 155.3,273.1 C157,278.4 160.3,283.1 162.1,287.9 C163.9,292.6 165.6,297.4 166,301.6 C166.4,305.8 165.9,310.1 164.5,313 C163.1,315.9 160.5,318.5 157.6,318.7 C154.7,318.9 150.7,316.6 147.3,314.1 C143.9,311.6 139.8,308.3 137.1,303.9 C134.4,299.5 132.9,294 131.4,287.9 C129.9,281.8 128.9,273.7 128,267.4 C127,261.1 126.7,255.6 125.7,250.3 C124.8,245 122.7,239.9 122.3,235.5 C121.9,231.1 122.5,227.7 123.4,224.1 C124.4,220.5 126.9,217.1 128,213.9 C129.1,210.7 129.2,207.5 130.2,204.8 C131.2,202.2 132.5,197.8 133.8,198Z" fill="url(#gm3)"/>
<path d="M171.2,207.8 C173.1,206.6 175.6,207.7 178.3,210.5 C181,213.3 184.2,219.9 187.2,224.7 C190.2,229.4 193.1,233.7 196.1,239 C199.1,244.3 202,251.8 205,256.8 C208,261.9 211.5,265.1 213.9,269.3 C216.3,273.5 219.9,279.7 219.3,281.8 C218.7,283.9 214.3,283 210.4,281.8 C206.5,280.6 200.6,277.4 196.1,274.7 C191.6,272 187.8,269.7 183.6,265.8 C179.4,261.9 174,256.9 171.2,251.5 C168.4,246.2 167.4,239.3 166.7,233.7 C165.9,228 165.9,221.9 166.7,217.6 C167.4,213.3 169.3,209 171.2,207.8Z" fill="url(#gf3)"/>
<path d="M233.5,267.5 L230,249.7 L228.2,231.9 L219.3,214 L205,199.8 L187.2,189.1 L169.4,174.8 L160.5,164 L153.3,151.5 L146.2,139.1 L142.6,124.8 L142.6,107 L139.1,94.5 L128.4,83.8 L115.9,71.3 L99.8,60.6 L83.8,51.7 L73.1,39.2 L69.3,42.5 L79.4,57.2 L95.1,68.3 L109.6,79.1 L120.6,91.6 L129.7,100.2 L132.7,108.1 L132.7,125.9 L137.8,142.4 L145.5,156 L153.1,169.1 L163.9,180.6 L183.2,194.8 L200.7,205.3 L214.4,217.5 L222.5,233.6 L225.1,250.4 L229.6,268.3Z" fill="#160832" filter="url(#sparse)"/>
<path d="M92.7,165.5 L97.5,178.4 L97.5,200 L92,217 L86.8,226 L89.4,227.5 L97.5,219.3 L105.4,201.1 L104.4,177.4 L95.5,164.5Z" fill="#52137e" filter="url(#sparse)"/>
<path d="M133.8,198 L138.3,205.9 L142.8,216.2 L149.6,227.6 L151.9,240.1 L153.9,239.7 L154.3,225.8 L148.1,213.4 L142.8,203.7 L135.5,197Z" fill="#c33c74" filter="url(#sparse)"/>
</g>
<g mask="url(#mshape)">
<rect x="0" y="0" width="312" height="335" fill="#000" filter="url(#speckD)" opacity="0.85" mask="url(#mdark)"/>
<rect x="0" y="0" width="312" height="335" fill="#000" filter="url(#speckD)" opacity="0.2975" mask="url(#mbright)"/>
<rect x="0" y="0" width="312" height="335" fill="#fff" filter="url(#speck)" opacity="0.55"/>
<g filter="url(#fringeF)"><use href="#fringeband"/></g>
</g>
</g>
<rect x="511.5" y="538.9" width="313.2" height="334.3" fill="none" stroke="#555" stroke-width="1.3"/>
<defs><linearGradient id="cb3" x1="0" y1="1" x2="0" y2="0">
<stop offset="0.00" stop-color="#000004"/>
<stop offset="0.10" stop-color="#140e36"/>
<stop offset="0.20" stop-color="#3b0f70"/>
<stop offset="0.30" stop-color="#641a80"/>
<stop offset="0.40" stop-color="#8c2981"/>
<stop offset="0.50" stop-color="#b73779"/>
<stop offset="0.60" stop-color="#de4968"/>
<stop offset="0.70" stop-color="#f7705c"/>
<stop offset="0.80" stop-color="#fe9f6d"/>
<stop offset="0.90" stop-color="#fecf92"/>
<stop offset="1.00" stop-color="#fcfdbf"/>
</linearGradient></defs>
<rect x="827.6" y="539.4" width="12" height="333.8" fill="url(#cb3)" stroke="#333" stroke-width="0.9"/>
<line x1="839.6" y1="546.3" x2="843.1" y2="546.3" stroke="#222" stroke-width="1"/>
<text x="848.6" y="555.3" class="tk">0.20</text>
<line x1="839.6" y1="627.6" x2="843.1" y2="627.6" stroke="#222" stroke-width="1"/>
<text x="848.6" y="636.6" class="tk">0.15</text>
<line x1="839.6" y1="709.9" x2="843.1" y2="709.9" stroke="#222" stroke-width="1"/>
<text x="848.6" y="718.9" class="tk">0.10</text>
<line x1="839.6" y1="791.9" x2="843.1" y2="791.9" stroke="#222" stroke-width="1"/>
<text x="848.6" y="800.9" class="tk">0.05</text>
<line x1="839.6" y1="873.2" x2="843.1" y2="873.2" stroke="#222" stroke-width="1"/>
<text x="848.6" y="882.2" class="tk">0.00</text>
<text x="668.1" y="531.9" class="ttl">Regulon(NR2F1(+))</text>
<text x="666.6" y="901.2" class="ax">UMAP1</text>
<text transform="translate(499.5,709) rotate(-90)" class="ax">UMAP2</text>
<defs>
<linearGradient id="gc4" gradientUnits="userSpaceOnUse" x1="150" y1="20" x2="275" y2="320"><stop offset="0" stop-color="#7a2181"/><stop offset="0.3" stop-color="#6e1e80"/><stop offset="0.6" stop-color="#7a2181"/><stop offset="1" stop-color="#8a2880"/></linearGradient>
<linearGradient id="gl4" x1="0" y1="0" x2="0.2" y2="1"><stop offset="0.2" stop-color="#7a2181"/><stop offset="0.5" stop-color="#7a2181"/><stop offset="1" stop-color="#a8337c"/></linearGradient>
<linearGradient id="gm4" x1="0" y1="0" x2="0.3" y2="1"><stop offset="0.05" stop-color="#a3307e"/><stop offset="0.55" stop-color="#e0556c"/><stop offset="0.95" stop-color="#fcaa6d"/></linearGradient>
<linearGradient id="gf4" x1="0" y1="0" x2="0.4" y2="1"><stop offset="0.1" stop-color="#45126f"/><stop offset="1" stop-color="#7b2382"/></linearGradient>
<clipPath id="cc4"><path d="M73.1,35.7 C73.4,33.3 73.4,28 74.9,25 C76.4,22 78.7,19.2 82,17.8 C85.3,16.4 90.3,17.2 94.5,16.9 C98.7,16.6 102,15.8 107,16 C112,16.1 118.9,17.1 124.8,17.8 C130.7,18.6 136.7,18.7 142.6,20.5 C148.5,22.3 154.6,26 160.5,28.5 C166.4,31 173,33.6 178.3,35.7 C183.6,37.8 188.1,38.3 192.5,41 C196.9,43.7 199.9,48.1 205,51.7 C210.1,55.3 217,57.6 222.9,62.4 C228.8,67.2 235.3,74.5 240.7,80.2 C246,85.9 250.6,90.3 255,96.3 C259.4,102.2 263.5,108.8 267.4,115.9 C271.2,123 274.8,131.7 278.1,139.1 C281.4,146.5 284.6,154.6 287,160.5 C289.4,166.4 290.8,168 292.4,174.8 C294,181.7 295.9,192.7 296.8,201.6 C297.7,210.5 297.7,219.4 297.7,228.3 C297.7,237.2 297.7,246.2 296.8,255.1 C295.9,264 294.6,274.4 292.4,281.8 C290.2,289.2 286.8,294.6 283.5,299.6 C280.2,304.7 277,308.7 272.8,312.1 C268.6,315.5 262.7,319.1 258.5,320.1 C254.3,321.1 251.1,319.9 247.8,318.3 C244.5,316.7 241.3,313.4 238.9,310.3 C236.5,307.2 234.7,303.5 233.5,299.6 C232.3,295.7 233.4,289.5 231.5,287 C229.6,284.5 224.9,285.2 222,284.5 C219.1,283.8 214,283.7 214,283 C214,282.3 219,281.2 222,280.5 C225,279.8 230.1,281.2 232,279 C233.9,276.8 233.8,272.4 233.5,267.5 C233.2,262.6 230.9,255.6 230,249.7 C229.1,243.8 230,237.8 228.2,231.9 C226.4,226 223.2,219.3 219.3,214 C215.4,208.7 210.3,204 205,199.8 C199.7,195.7 193.1,193.3 187.2,189.1 C181.3,184.9 173.8,179 169.4,174.8 C165,170.6 163.2,167.9 160.5,164 C157.8,160.1 155.7,155.7 153.3,151.5 C150.9,147.3 148,143.5 146.2,139.1 C144.4,134.7 143.2,130.2 142.6,124.8 C142,119.5 143.2,112 142.6,107 C142,102 141.5,98.4 139.1,94.5 C136.7,90.6 132.3,87.7 128.4,83.8 C124.5,79.9 120.7,75.2 115.9,71.3 C111.1,67.4 105.2,63.9 99.8,60.6 C94.4,57.3 88.2,55.3 83.8,51.7 C79.3,48.1 74.9,41.9 73.1,39.2 C71.3,36.5 72.8,38.1 73.1,35.7Z"/></clipPath>
</defs>
<g transform="translate(56.3,949.3) scale(0.9971,0.9979)">
<g filter="url(#rough)">
<path d="M73.1,35.7 C73.4,33.3 73.4,28 74.9,25 C76.4,22 78.7,19.2 82,17.8 C85.3,16.4 90.3,17.2 94.5,16.9 C98.7,16.6 102,15.8 107,16 C112,16.1 118.9,17.1 124.8,17.8 C130.7,18.6 136.7,18.7 142.6,20.5 C148.5,22.3 154.6,26 160.5,28.5 C166.4,31 173,33.6 178.3,35.7 C183.6,37.8 188.1,38.3 192.5,41 C196.9,43.7 199.9,48.1 205,51.7 C210.1,55.3 217,57.6 222.9,62.4 C228.8,67.2 235.3,74.5 240.7,80.2 C246,85.9 250.6,90.3 255,96.3 C259.4,102.2 263.5,108.8 267.4,115.9 C271.2,123 274.8,131.7 278.1,139.1 C281.4,146.5 284.6,154.6 287,160.5 C289.4,166.4 290.8,168 292.4,174.8 C294,181.7 295.9,192.7 296.8,201.6 C297.7,210.5 297.7,219.4 297.7,228.3 C297.7,237.2 297.7,246.2 296.8,255.1 C295.9,264 294.6,274.4 292.4,281.8 C290.2,289.2 286.8,294.6 283.5,299.6 C280.2,304.7 277,308.7 272.8,312.1 C268.6,315.5 262.7,319.1 258.5,320.1 C254.3,321.1 251.1,319.9 247.8,318.3 C244.5,316.7 241.3,313.4 238.9,310.3 C236.5,307.2 234.7,303.5 233.5,299.6 C232.3,295.7 233.4,289.5 231.5,287 C229.6,284.5 224.9,285.2 222,284.5 C219.1,283.8 214,283.7 214,283 C214,282.3 219,281.2 222,280.5 C225,279.8 230.1,281.2 232,279 C233.9,276.8 233.8,272.4 233.5,267.5 C233.2,262.6 230.9,255.6 230,249.7 C229.1,243.8 230,237.8 228.2,231.9 C226.4,226 223.2,219.3 219.3,214 C215.4,208.7 210.3,204 205,199.8 C199.7,195.7 193.1,193.3 187.2,189.1 C181.3,184.9 173.8,179 169.4,174.8 C165,170.6 163.2,167.9 160.5,164 C157.8,160.1 155.7,155.7 153.3,151.5 C150.9,147.3 148,143.5 146.2,139.1 C144.4,134.7 143.2,130.2 142.6,124.8 C142,119.5 143.2,112 142.6,107 C142,102 141.5,98.4 139.1,94.5 C136.7,90.6 132.3,87.7 128.4,83.8 C124.5,79.9 120.7,75.2 115.9,71.3 C111.1,67.4 105.2,63.9 99.8,60.6 C94.4,57.3 88.2,55.3 83.8,51.7 C79.3,48.1 74.9,41.9 73.1,39.2 C71.3,36.5 72.8,38.1 73.1,35.7Z" fill="url(#gc4)"/>
<g clip-path="url(#cc4)"><path d="M233.5,267.5 C232.9,264.5 230.9,255.6 230,249.7 C229.1,243.8 230,237.8 228.2,231.9 C226.4,226 223.2,219.3 219.3,214 C215.4,208.7 210.3,204 205,199.8 C199.7,195.7 193.1,193.3 187.2,189.1 C181.3,184.9 173.8,179 169.4,174.8 C165,170.6 163.2,167.9 160.5,164 C157.8,160.1 155.7,155.7 153.3,151.5 C150.9,147.3 148,143.5 146.2,139.1 C144.4,134.7 143.2,130.2 142.6,124.8 C142,119.5 143.2,112 142.6,107 C142,102 139.7,96.6 139.1,94.5" fill="none" stroke="#260b52" stroke-width="36" stroke-opacity="0.85" filter="url(#blur6)"/>
<ellipse cx="100" cy="50" rx="26" ry="16" fill="#a3307e" opacity="0.6" filter="url(#blur6)"/>
</g>
<path d="M83.8,66 C85,64.2 88.8,61.5 92.7,62.4 C96.6,63.3 103.4,68.3 107,71.3 C110.6,74.3 113.8,77.5 114.1,80.2 C114.4,82.9 111.8,87.7 108.8,87.4 C105.8,87.1 100.2,80.8 96.3,78.4 C92.4,76 87.7,75.2 85.6,73.1 C83.5,71 82.6,67.8 83.8,66Z" fill="#b03579"/>
<path d="M14.3,86.5 C14.3,84.4 17.2,81.5 19.6,80.2 C22,78.9 25.5,78.4 28.5,78.4 C31.5,78.4 34.7,80.2 37.4,80.2 C40.1,80.2 41.9,79.8 44.6,78.4 C47.3,77.1 49.6,75.9 53.5,72.1 C57.4,68.2 65,57.8 67.7,55.3 C70.4,52.8 71.4,53.7 69.5,57 C67.6,60.3 59.6,70.4 56.3,74.9 C53,79.4 52.8,81.4 49.9,83.8 C47,86.2 41.6,87 39.2,89.1 C36.8,91.2 37.8,94.8 35.7,96.3 C33.6,97.8 29.4,98.6 26.7,98 C24,97.4 21.7,94.6 19.6,92.7 C17.5,90.8 14.3,88.6 14.3,86.5Z" fill="#f07060"/>
<path d="M79.3,107 C79,108.6 76.3,114 76.5,116.7 C76.7,119.4 79.9,120.8 80.2,123 C80.5,125.2 79.3,128 78.4,130.1 C77.5,132.2 76.7,134.9 74.9,135.5 C73.1,136.1 69.3,135.5 67.7,133.7 C66.1,131.9 65.1,127.2 65.1,124.8 C65.1,122.4 66.2,120.8 67.7,119.5 C69.2,118.2 72.3,118.8 74.1,116.7 C75.9,114.6 77.5,108.6 78.4,107 C79.3,105.4 79.6,105.4 79.3,107Z" fill="#c03b75"/>
<path d="M67.7,167.7 C71,165.8 76,167.2 80.2,166.8 C84.4,166.4 89.8,163.6 92.7,165.5 C95.6,167.4 96.7,172.7 97.5,178.4 C98.3,184.2 98.4,193.6 97.5,200 C96.6,206.4 93.8,212.7 92,217 C90.2,221.3 88.2,221.2 86.8,226 C85.4,230.8 84.6,239.2 83.8,246.1 C83,253 81.7,260.9 82,267.5 C82.3,274.1 83.5,279.1 85.6,285.4 C87.7,291.6 93.9,300.9 94.5,305 C95.1,309.1 91.8,309.1 89.1,310.3 C86.4,311.5 82.6,312.7 78.4,312.1 C74.2,311.5 68.4,310.1 64.2,306.8 C60.1,303.5 56.5,298.1 53.5,292.5 C50.5,286.9 48,280.6 46.4,272.9 C44.8,265.2 43.9,255 43.7,246.1 C43.6,237.2 44.2,228.3 45.5,219.4 C46.8,210.5 49.2,199.5 51.7,192.7 C54.2,185.9 57.9,182.6 60.6,178.4 C63.3,174.2 64.4,169.6 67.7,167.7Z" fill="url(#gl4)"/>
<defs><linearGradient id="gt4" x1="0" y1="0" x2="0.3" y2="1"><stop offset="0.1" stop-color="#e8616a"/><stop offset="0.9" stop-color="#e8616a"/></linearGradient></defs>
<path d="M103.4,223 C104.6,220.6 108.1,222 110.5,224.7 C112.9,227.4 115.6,233.1 117.7,239 C119.8,244.9 121.8,253.9 123,260.4 C124.2,266.9 125.7,275.2 124.8,278.2 C123.9,281.2 120.1,280 117.7,278.2 C115.3,276.4 112.6,271.4 110.5,267.5 C108.4,263.6 106.4,259.9 105.2,255.1 C104,250.3 103.7,244.3 103.4,239 C103.1,233.7 102.2,225.4 103.4,223Z" fill="url(#gt4)"/>
<path d="M133.8,198 C135.2,198.2 136.8,202.9 138.3,205.9 C139.8,208.9 140.9,212.6 142.8,216.2 C144.7,219.8 148.1,223.6 149.6,227.6 C151.1,231.6 151.5,235.4 151.9,240.1 C152.3,244.8 151.3,250.5 151.9,256 C152.5,261.5 153.6,267.8 155.3,273.1 C157,278.4 160.3,283.1 162.1,287.9 C163.9,292.6 165.6,297.4 166,301.6 C166.4,305.8 165.9,310.1 164.5,313 C163.1,315.9 160.5,318.5 157.6,318.7 C154.7,318.9 150.7,316.6 147.3,314.1 C143.9,311.6 139.8,308.3 137.1,303.9 C134.4,299.5 132.9,294 131.4,287.9 C129.9,281.8 128.9,273.7 128,267.4 C127,261.1 126.7,255.6 125.7,250.3 C124.8,245 122.7,239.9 122.3,235.5 C121.9,231.1 122.5,227.7 123.4,224.1 C124.4,220.5 126.9,217.1 128,213.9 C129.1,210.7 129.2,207.5 130.2,204.8 C131.2,202.2 132.5,197.8 133.8,198Z" fill="url(#gm4)"/>
<path d="M171.2,207.8 C173.1,206.6 175.6,207.7 178.3,210.5 C181,213.3 184.2,219.9 187.2,224.7 C190.2,229.4 193.1,233.7 196.1,239 C199.1,244.3 202,251.8 205,256.8 C208,261.9 211.5,265.1 213.9,269.3 C216.3,273.5 219.9,279.7 219.3,281.8 C218.7,283.9 214.3,283 210.4,281.8 C206.5,280.6 200.6,277.4 196.1,274.7 C191.6,272 187.8,269.7 183.6,265.8 C179.4,261.9 174,256.9 171.2,251.5 C168.4,246.2 167.4,239.3 166.7,233.7 C165.9,228 165.9,221.9 166.7,217.6 C167.4,213.3 169.3,209 171.2,207.8Z" fill="url(#gf4)"/>
<path d="M233.5,267.5 L230,249.7 L228.2,231.9 L219.3,214 L205,199.8 L187.2,189.1 L169.4,174.8 L160.5,164 L153.3,151.5 L146.2,139.1 L142.6,124.8 L142.6,107 L139.1,94.5 L128.4,83.8 L115.9,71.3 L99.8,60.6 L83.8,51.7 L73.1,39.2 L69.3,42.5 L79.4,57.2 L95.1,68.3 L109.6,79.1 L120.6,91.6 L129.7,100.2 L132.7,108.1 L132.7,125.9 L137.8,142.4 L145.5,156 L153.1,169.1 L163.9,180.6 L183.2,194.8 L200.7,205.3 L214.4,217.5 L222.5,233.6 L225.1,250.4 L229.6,268.3Z" fill="#260b52" filter="url(#sparse)"/>
<path d="M92.7,165.5 L97.5,178.4 L97.5,200 L92,217 L86.8,226 L89.4,227.5 L97.5,219.3 L105.4,201.1 L104.4,177.4 L95.5,164.5Z" fill="#7a2181" filter="url(#sparse)"/>
<path d="M133.8,198 L138.3,205.9 L142.8,216.2 L149.6,227.6 L151.9,240.1 L153.9,239.7 L154.3,225.8 L148.1,213.4 L142.8,203.7 L135.5,197Z" fill="#a3307e" filter="url(#sparse)"/>
</g>
<g mask="url(#mshape)">
<rect x="0" y="0" width="312" height="335" fill="#000" filter="url(#speckD)" opacity="0.45" mask="url(#mdark)"/>
<rect x="0" y="0" width="312" height="335" fill="#000" filter="url(#speckD)" opacity="0.1575" mask="url(#mbright)"/>
<rect x="0" y="0" width="312" height="335" fill="#f07060" filter="url(#speckC)" opacity="0.45"/>
<rect x="0" y="0" width="312" height="335" fill="#fff" filter="url(#speck)" opacity="0.55"/>
<g filter="url(#fringeF)"><use href="#fringeband"/></g>
</g>
</g>
<rect x="56.3" y="949.3" width="311.5" height="334.7" fill="none" stroke="#555" stroke-width="1.3"/>
<defs><linearGradient id="cb4" x1="0" y1="1" x2="0" y2="0">
<stop offset="0.00" stop-color="#000004"/>
<stop offset="0.10" stop-color="#140e36"/>
<stop offset="0.20" stop-color="#3b0f70"/>
<stop offset="0.30" stop-color="#641a80"/>
<stop offset="0.40" stop-color="#8c2981"/>
<stop offset="0.50" stop-color="#b73779"/>
<stop offset="0.60" stop-color="#de4968"/>
<stop offset="0.70" stop-color="#f7705c"/>
<stop offset="0.80" stop-color="#fe9f6d"/>
<stop offset="0.90" stop-color="#fecf92"/>
<stop offset="1.00" stop-color="#fcfdbf"/>
</linearGradient></defs>
<rect x="370.7" y="949.8" width="12" height="334.2" fill="url(#cb4)" stroke="#333" stroke-width="0.9"/>
<line x1="382.7" y1="991.9" x2="386.2" y2="991.9" stroke="#222" stroke-width="1"/>
<text x="391.7" y="1000.9" class="tk">0.125</text>
<line x1="382.7" y1="1052.8" x2="386.2" y2="1052.8" stroke="#222" stroke-width="1"/>
<text x="391.7" y="1061.8" class="tk">0.100</text>
<line x1="382.7" y1="1115.5" x2="386.2" y2="1115.5" stroke="#222" stroke-width="1"/>
<text x="391.7" y="1124.5" class="tk">0.075</text>
<line x1="382.7" y1="1176.4" x2="386.2" y2="1176.4" stroke="#222" stroke-width="1"/>
<text x="391.7" y="1185.4" class="tk">0.050</text>
<line x1="382.7" y1="1239.2" x2="386.2" y2="1239.2" stroke="#222" stroke-width="1"/>
<text x="391.7" y="1248.2" class="tk">0.025</text>
<text x="212.1" y="942.3" class="ttl">Regulon(CEBPB(+))</text>
<text x="210.6" y="1312" class="ax">UMAP1</text>
<text transform="translate(44.3,1119.6) rotate(-90)" class="ax">UMAP2</text>
<defs>
<linearGradient id="gc5" gradientUnits="userSpaceOnUse" x1="150" y1="20" x2="275" y2="320"><stop offset="0" stop-color="#6a1c80"/><stop offset="0.35" stop-color="#5e187d"/><stop offset="0.7" stop-color="#62197f"/><stop offset="1" stop-color="#6a1c80"/></linearGradient>
<linearGradient id="gl5" x1="0" y1="0" x2="0.2" y2="1"><stop offset="0.2" stop-color="#55157a"/><stop offset="0.55" stop-color="#64197f"/><stop offset="1" stop-color="#c8416f"/></linearGradient>
<linearGradient id="gm5" x1="0" y1="0" x2="0.3" y2="1"><stop offset="0.05" stop-color="#b73779"/><stop offset="0.55" stop-color="#e0556c"/><stop offset="0.95" stop-color="#f06a60"/></linearGradient>
<linearGradient id="gf5" x1="0" y1="0" x2="0.4" y2="1"><stop offset="0.1" stop-color="#3a0f6c"/><stop offset="1" stop-color="#6a1c80"/></linearGradient>
<clipPath id="cc5"><path d="M73.1,35.7 C73.4,33.3 73.4,28 74.9,25 C76.4,22 78.7,19.2 82,17.8 C85.3,16.4 90.3,17.2 94.5,16.9 C98.7,16.6 102,15.8 107,16 C112,16.1 118.9,17.1 124.8,17.8 C130.7,18.6 136.7,18.7 142.6,20.5 C148.5,22.3 154.6,26 160.5,28.5 C166.4,31 173,33.6 178.3,35.7 C183.6,37.8 188.1,38.3 192.5,41 C196.9,43.7 199.9,48.1 205,51.7 C210.1,55.3 217,57.6 222.9,62.4 C228.8,67.2 235.3,74.5 240.7,80.2 C246,85.9 250.6,90.3 255,96.3 C259.4,102.2 263.5,108.8 267.4,115.9 C271.2,123 274.8,131.7 278.1,139.1 C281.4,146.5 284.6,154.6 287,160.5 C289.4,166.4 290.8,168 292.4,174.8 C294,181.7 295.9,192.7 296.8,201.6 C297.7,210.5 297.7,219.4 297.7,228.3 C297.7,237.2 297.7,246.2 296.8,255.1 C295.9,264 294.6,274.4 292.4,281.8 C290.2,289.2 286.8,294.6 283.5,299.6 C280.2,304.7 277,308.7 272.8,312.1 C268.6,315.5 262.7,319.1 258.5,320.1 C254.3,321.1 251.1,319.9 247.8,318.3 C244.5,316.7 241.3,313.4 238.9,310.3 C236.5,307.2 234.7,303.5 233.5,299.6 C232.3,295.7 233.4,289.5 231.5,287 C229.6,284.5 224.9,285.2 222,284.5 C219.1,283.8 214,283.7 214,283 C214,282.3 219,281.2 222,280.5 C225,279.8 230.1,281.2 232,279 C233.9,276.8 233.8,272.4 233.5,267.5 C233.2,262.6 230.9,255.6 230,249.7 C229.1,243.8 230,237.8 228.2,231.9 C226.4,226 223.2,219.3 219.3,214 C215.4,208.7 210.3,204 205,199.8 C199.7,195.7 193.1,193.3 187.2,189.1 C181.3,184.9 173.8,179 169.4,174.8 C165,170.6 163.2,167.9 160.5,164 C157.8,160.1 155.7,155.7 153.3,151.5 C150.9,147.3 148,143.5 146.2,139.1 C144.4,134.7 143.2,130.2 142.6,124.8 C142,119.5 143.2,112 142.6,107 C142,102 141.5,98.4 139.1,94.5 C136.7,90.6 132.3,87.7 128.4,83.8 C124.5,79.9 120.7,75.2 115.9,71.3 C111.1,67.4 105.2,63.9 99.8,60.6 C94.4,57.3 88.2,55.3 83.8,51.7 C79.3,48.1 74.9,41.9 73.1,39.2 C71.3,36.5 72.8,38.1 73.1,35.7Z"/></clipPath>
</defs>
<g transform="translate(512.3,949.2) scale(0.9990,0.9976)">
<g filter="url(#rough)">
<path d="M73.1,35.7 C73.4,33.3 73.4,28 74.9,25 C76.4,22 78.7,19.2 82,17.8 C85.3,16.4 90.3,17.2 94.5,16.9 C98.7,16.6 102,15.8 107,16 C112,16.1 118.9,17.1 124.8,17.8 C130.7,18.6 136.7,18.7 142.6,20.5 C148.5,22.3 154.6,26 160.5,28.5 C166.4,31 173,33.6 178.3,35.7 C183.6,37.8 188.1,38.3 192.5,41 C196.9,43.7 199.9,48.1 205,51.7 C210.1,55.3 217,57.6 222.9,62.4 C228.8,67.2 235.3,74.5 240.7,80.2 C246,85.9 250.6,90.3 255,96.3 C259.4,102.2 263.5,108.8 267.4,115.9 C271.2,123 274.8,131.7 278.1,139.1 C281.4,146.5 284.6,154.6 287,160.5 C289.4,166.4 290.8,168 292.4,174.8 C294,181.7 295.9,192.7 296.8,201.6 C297.7,210.5 297.7,219.4 297.7,228.3 C297.7,237.2 297.7,246.2 296.8,255.1 C295.9,264 294.6,274.4 292.4,281.8 C290.2,289.2 286.8,294.6 283.5,299.6 C280.2,304.7 277,308.7 272.8,312.1 C268.6,315.5 262.7,319.1 258.5,320.1 C254.3,321.1 251.1,319.9 247.8,318.3 C244.5,316.7 241.3,313.4 238.9,310.3 C236.5,307.2 234.7,303.5 233.5,299.6 C232.3,295.7 233.4,289.5 231.5,287 C229.6,284.5 224.9,285.2 222,284.5 C219.1,283.8 214,283.7 214,283 C214,282.3 219,281.2 222,280.5 C225,279.8 230.1,281.2 232,279 C233.9,276.8 233.8,272.4 233.5,267.5 C233.2,262.6 230.9,255.6 230,249.7 C229.1,243.8 230,237.8 228.2,231.9 C226.4,226 223.2,219.3 219.3,214 C215.4,208.7 210.3,204 205,199.8 C199.7,195.7 193.1,193.3 187.2,189.1 C181.3,184.9 173.8,179 169.4,174.8 C165,170.6 163.2,167.9 160.5,164 C157.8,160.1 155.7,155.7 153.3,151.5 C150.9,147.3 148,143.5 146.2,139.1 C144.4,134.7 143.2,130.2 142.6,124.8 C142,119.5 143.2,112 142.6,107 C142,102 141.5,98.4 139.1,94.5 C136.7,90.6 132.3,87.7 128.4,83.8 C124.5,79.9 120.7,75.2 115.9,71.3 C111.1,67.4 105.2,63.9 99.8,60.6 C94.4,57.3 88.2,55.3 83.8,51.7 C79.3,48.1 74.9,41.9 73.1,39.2 C71.3,36.5 72.8,38.1 73.1,35.7Z" fill="url(#gc5)"/>
<g clip-path="url(#cc5)"><path d="M233.5,267.5 C232.9,264.5 230.9,255.6 230,249.7 C229.1,243.8 230,237.8 228.2,231.9 C226.4,226 223.2,219.3 219.3,214 C215.4,208.7 210.3,204 205,199.8 C199.7,195.7 193.1,193.3 187.2,189.1 C181.3,184.9 173.8,179 169.4,174.8 C165,170.6 163.2,167.9 160.5,164 C157.8,160.1 155.7,155.7 153.3,151.5 C150.9,147.3 148,143.5 146.2,139.1 C144.4,134.7 143.2,130.2 142.6,124.8 C142,119.5 143.2,112 142.6,107 C142,102 141.5,98.4 139.1,94.5 C136.7,90.6 130.2,85.6 128.4,83.8" fill="none" stroke="#200a48" stroke-width="36" stroke-opacity="0.85" filter="url(#blur6)"/>
<ellipse cx="98" cy="48" rx="26" ry="16" fill="#8c2981" opacity="0.6" filter="url(#blur6)"/>
</g>
<path d="M83.8,66 C85,64.2 88.8,61.5 92.7,62.4 C96.6,63.3 103.4,68.3 107,71.3 C110.6,74.3 113.8,77.5 114.1,80.2 C114.4,82.9 111.8,87.7 108.8,87.4 C105.8,87.1 100.2,80.8 96.3,78.4 C92.4,76 87.7,75.2 85.6,73.1 C83.5,71 82.6,67.8 83.8,66Z" fill="#b03579"/>
<path d="M14.3,86.5 C14.3,84.4 17.2,81.5 19.6,80.2 C22,78.9 25.5,78.4 28.5,78.4 C31.5,78.4 34.7,80.2 37.4,80.2 C40.1,80.2 41.9,79.8 44.6,78.4 C47.3,77.1 49.6,75.9 53.5,72.1 C57.4,68.2 65,57.8 67.7,55.3 C70.4,52.8 71.4,53.7 69.5,57 C67.6,60.3 59.6,70.4 56.3,74.9 C53,79.4 52.8,81.4 49.9,83.8 C47,86.2 41.6,87 39.2,89.1 C36.8,91.2 37.8,94.8 35.7,96.3 C33.6,97.8 29.4,98.6 26.7,98 C24,97.4 21.7,94.6 19.6,92.7 C17.5,90.8 14.3,88.6 14.3,86.5Z" fill="#5a177c"/>
<path d="M79.3,107 C79,108.6 76.3,114 76.5,116.7 C76.7,119.4 79.9,120.8 80.2,123 C80.5,125.2 79.3,128 78.4,130.1 C77.5,132.2 76.7,134.9 74.9,135.5 C73.1,136.1 69.3,135.5 67.7,133.7 C66.1,131.9 65.1,127.2 65.1,124.8 C65.1,122.4 66.2,120.8 67.7,119.5 C69.2,118.2 72.3,118.8 74.1,116.7 C75.9,114.6 77.5,108.6 78.4,107 C79.3,105.4 79.6,105.4 79.3,107Z" fill="#5a177c"/>
<path d="M67.7,167.7 C71,165.8 76,167.2 80.2,166.8 C84.4,166.4 89.8,163.6 92.7,165.5 C95.6,167.4 96.7,172.7 97.5,178.4 C98.3,184.2 98.4,193.6 97.5,200 C96.6,206.4 93.8,212.7 92,217 C90.2,221.3 88.2,221.2 86.8,226 C85.4,230.8 84.6,239.2 83.8,246.1 C83,253 81.7,260.9 82,267.5 C82.3,274.1 83.5,279.1 85.6,285.4 C87.7,291.6 93.9,300.9 94.5,305 C95.1,309.1 91.8,309.1 89.1,310.3 C86.4,311.5 82.6,312.7 78.4,312.1 C74.2,311.5 68.4,310.1 64.2,306.8 C60.1,303.5 56.5,298.1 53.5,292.5 C50.5,286.9 48,280.6 46.4,272.9 C44.8,265.2 43.9,255 43.7,246.1 C43.6,237.2 44.2,228.3 45.5,219.4 C46.8,210.5 49.2,199.5 51.7,192.7 C54.2,185.9 57.9,182.6 60.6,178.4 C63.3,174.2 64.4,169.6 67.7,167.7Z" fill="url(#gl5)"/>
<defs><linearGradient id="gt5" x1="0" y1="0" x2="0.3" y2="1"><stop offset="0.1" stop-color="#e45a6c"/><stop offset="0.9" stop-color="#e45a6c"/></linearGradient></defs>
<path d="M103.4,223 C104.6,220.6 108.1,222 110.5,224.7 C112.9,227.4 115.6,233.1 117.7,239 C119.8,244.9 121.8,253.9 123,260.4 C124.2,266.9 125.7,275.2 124.8,278.2 C123.9,281.2 120.1,280 117.7,278.2 C115.3,276.4 112.6,271.4 110.5,267.5 C108.4,263.6 106.4,259.9 105.2,255.1 C104,250.3 103.7,244.3 103.4,239 C103.1,233.7 102.2,225.4 103.4,223Z" fill="url(#gt5)"/>
<path d="M133.8,198 C135.2,198.2 136.8,202.9 138.3,205.9 C139.8,208.9 140.9,212.6 142.8,216.2 C144.7,219.8 148.1,223.6 149.6,227.6 C151.1,231.6 151.5,235.4 151.9,240.1 C152.3,244.8 151.3,250.5 151.9,256 C152.5,261.5 153.6,267.8 155.3,273.1 C157,278.4 160.3,283.1 162.1,287.9 C163.9,292.6 165.6,297.4 166,301.6 C166.4,305.8 165.9,310.1 164.5,313 C163.1,315.9 160.5,318.5 157.6,318.7 C154.7,318.9 150.7,316.6 147.3,314.1 C143.9,311.6 139.8,308.3 137.1,303.9 C134.4,299.5 132.9,294 131.4,287.9 C129.9,281.8 128.9,273.7 128,267.4 C127,261.1 126.7,255.6 125.7,250.3 C124.8,245 122.7,239.9 122.3,235.5 C121.9,231.1 122.5,227.7 123.4,224.1 C124.4,220.5 126.9,217.1 128,213.9 C129.1,210.7 129.2,207.5 130.2,204.8 C131.2,202.2 132.5,197.8 133.8,198Z" fill="url(#gm5)"/>
<path d="M171.2,207.8 C173.1,206.6 175.6,207.7 178.3,210.5 C181,213.3 184.2,219.9 187.2,224.7 C190.2,229.4 193.1,233.7 196.1,239 C199.1,244.3 202,251.8 205,256.8 C208,261.9 211.5,265.1 213.9,269.3 C216.3,273.5 219.9,279.7 219.3,281.8 C218.7,283.9 214.3,283 210.4,281.8 C206.5,280.6 200.6,277.4 196.1,274.7 C191.6,272 187.8,269.7 183.6,265.8 C179.4,261.9 174,256.9 171.2,251.5 C168.4,246.2 167.4,239.3 166.7,233.7 C165.9,228 165.9,221.9 166.7,217.6 C167.4,213.3 169.3,209 171.2,207.8Z" fill="url(#gf5)"/>
<path d="M233.5,267.5 L230,249.7 L228.2,231.9 L219.3,214 L205,199.8 L187.2,189.1 L169.4,174.8 L160.5,164 L153.3,151.5 L146.2,139.1 L142.6,124.8 L142.6,107 L139.1,94.5 L128.4,83.8 L115.9,71.3 L99.8,60.6 L83.8,51.7 L73.1,39.2 L69.3,42.5 L79.4,57.2 L95.1,68.3 L109.6,79.1 L120.6,91.6 L129.7,100.2 L132.7,108.1 L132.7,125.9 L137.8,142.4 L145.5,156 L153.1,169.1 L163.9,180.6 L183.2,194.8 L200.7,205.3 L214.4,217.5 L222.5,233.6 L225.1,250.4 L229.6,268.3Z" fill="#200a48" filter="url(#sparse)"/>
<path d="M92.7,165.5 L97.5,178.4 L97.5,200 L92,217 L86.8,226 L89.4,227.5 L97.5,219.3 L105.4,201.1 L104.4,177.4 L95.5,164.5Z" fill="#55157a" filter="url(#sparse)"/>
<path d="M133.8,198 L138.3,205.9 L142.8,216.2 L149.6,227.6 L151.9,240.1 L153.9,239.7 L154.3,225.8 L148.1,213.4 L142.8,203.7 L135.5,197Z" fill="#b73779" filter="url(#sparse)"/>
</g>
<g mask="url(#mshape)">
<rect x="0" y="0" width="312" height="335" fill="#000" filter="url(#speckD)" opacity="0.5" mask="url(#mdark)"/>
<rect x="0" y="0" width="312" height="335" fill="#000" filter="url(#speckD)" opacity="0.175" mask="url(#mbright)"/>
<rect x="0" y="0" width="312" height="335" fill="#e8616a" filter="url(#speckC)" opacity="0.4"/>
<rect x="0" y="0" width="312" height="335" fill="#fff" filter="url(#speck)" opacity="0.55"/>
<g filter="url(#fringeF)"><use href="#fringeband"/></g>
</g>
</g>
<rect x="512.3" y="949.2" width="312.1" height="334.6" fill="none" stroke="#555" stroke-width="1.3"/>
<defs><linearGradient id="cb5" x1="0" y1="1" x2="0" y2="0">
<stop offset="0.00" stop-color="#000004"/>
<stop offset="0.10" stop-color="#140e36"/>
<stop offset="0.20" stop-color="#3b0f70"/>
<stop offset="0.30" stop-color="#641a80"/>
<stop offset="0.40" stop-color="#8c2981"/>
<stop offset="0.50" stop-color="#b73779"/>
<stop offset="0.60" stop-color="#de4968"/>
<stop offset="0.70" stop-color="#f7705c"/>
<stop offset="0.80" stop-color="#fe9f6d"/>
<stop offset="0.90" stop-color="#fecf92"/>
<stop offset="1.00" stop-color="#fcfdbf"/>
</linearGradient></defs>
<rect x="827.3" y="949.7" width="12" height="334.1" fill="url(#cb5)" stroke="#333" stroke-width="0.9"/>
<line x1="839.3" y1="1005.2" x2="842.8" y2="1005.2" stroke="#222" stroke-width="1"/>
<text x="848.3" y="1014.2" class="tk">0.20</text>
<line x1="839.3" y1="1083" x2="842.8" y2="1083" stroke="#222" stroke-width="1"/>
<text x="848.3" y="1092" class="tk">0.15</text>
<line x1="839.3" y1="1160.3" x2="842.8" y2="1160.3" stroke="#222" stroke-width="1"/>
<text x="848.3" y="1169.3" class="tk">0.10</text>
<line x1="839.3" y1="1238.1" x2="842.8" y2="1238.1" stroke="#222" stroke-width="1"/>
<text x="848.3" y="1247.1" class="tk">0.05</text>
<text x="668.3" y="942.2" class="ttl">Regulon(CREB3(+))</text>
<text x="666.8" y="1311.8" class="ax">UMAP1</text>
<text transform="translate(500.3,1119.5) rotate(-90)" class="ax">UMAP2</text>
<text transform="translate(918.3,285.2) rotate(90)" class="auc" textLength="181" lengthAdjust="spacingAndGlyphs">AUC Score</text>
<text transform="translate(918.3,706.9) rotate(90)" class="auc" textLength="181" lengthAdjust="spacingAndGlyphs">AUC Score</text>
<text transform="translate(918.3,1117.8) rotate(90)" class="auc" textLength="181" lengthAdjust="spacingAndGlyphs">AUC Score</text>
<g stroke-width="2" fill="none"><line x1="1091" y1="109" x2="1311.6" y2="113.2" stroke="#7f3acc"/><line x1="1091" y1="109" x2="1331.3" y2="194.7" stroke="#7f3acc"/><line x1="1091" y1="109" x2="1346.6" y2="286.9" stroke="#7f3acc"/><line x1="1091" y1="109" x2="1365.6" y2="663.9" stroke="#7f3acc"/><line x1="1091" y1="109" x2="1367.5" y2="761.5" stroke="#7f3acc"/><line x1="1091" y1="109" x2="1369" y2="859.2" stroke="#7f3acc"/><line x1="1091" y1="109" x2="1370.1" y2="956.7" stroke="#7f3acc"/><line x1="1091" y1="109" x2="1371" y2="1054.9" stroke="#7f3acc"/><line x1="1091" y1="594.3" x2="1359.3" y2="239.1" stroke="#67701c"/><line x1="1091" y1="594.3" x2="1356.9" y2="287.4" stroke="#67701c"/><line x1="1091" y1="594.3" x2="1353.9" y2="335.5" stroke="#67701c"/><line x1="1091" y1="594.3" x2="1350.1" y2="382.8" stroke="#67701c"/><line x1="1091" y1="594.3" x2="1311.5" y2="594.5" stroke="#67701c"/><line x1="1091" y1="594.3" x2="1318.6" y2="633.1" stroke="#67701c"/><line x1="1091" y1="594.3" x2="1330.3" y2="675.7" stroke="#67701c"/><line x1="1091" y1="594.3" x2="1346.1" y2="767.6" stroke="#67701c"/><line x1="1091" y1="594.3" x2="1354.6" y2="862.8" stroke="#67701c"/><line x1="1091" y1="594.3" x2="1363.2" y2="1056.4" stroke="#67701c"/><line x1="1091" y1="1082.8" x2="1370" y2="241.4" stroke="#3cc8c8"/><line x1="1091" y1="1082.8" x2="1368.9" y2="339.3" stroke="#3cc8c8"/><line x1="1091" y1="1082.8" x2="1364.5" y2="574" stroke="#3cc8c8"/><line x1="1091" y1="1082.8" x2="1359.7" y2="719.7" stroke="#3cc8c8"/><line x1="1091" y1="1082.8" x2="1354.5" y2="816.2" stroke="#3cc8c8"/><line x1="1091" y1="1082.8" x2="1345.9" y2="911.3" stroke="#3cc8c8"/><line x1="1091" y1="1082.8" x2="1311.5" y2="1084.1" stroke="#3cc8c8"/><line x1="1681.5" y1="108.7" x2="1448" y2="113.2" stroke="#3a5cc8"/><line x1="1681.5" y1="108.7" x2="1429.2" y2="195.1" stroke="#3a5cc8"/><line x1="1681.5" y1="108.7" x2="1420.3" y2="240.5" stroke="#3a5cc8"/><line x1="1681.5" y1="108.7" x2="1397.1" y2="566.6" stroke="#3a5cc8"/><line x1="1681.5" y1="108.7" x2="1394.5" y2="664" stroke="#3a5cc8"/><line x1="1681.5" y1="108.7" x2="1392.6" y2="761.6" stroke="#3a5cc8"/><line x1="1681.5" y1="108.7" x2="1389.9" y2="956.8" stroke="#3a5cc8"/><line x1="1681.5" y1="108.7" x2="1388.9" y2="1055" stroke="#3a5cc8"/><line x1="1681.5" y1="595.8" x2="1397.3" y2="142.4" stroke="#3a5cc8"/><line x1="1681.5" y1="595.8" x2="1400.9" y2="238.9" stroke="#3a5cc8"/><line x1="1681.5" y1="595.8" x2="1403.4" y2="287.2" stroke="#3a5cc8"/><line x1="1681.5" y1="595.8" x2="1448.1" y2="594.8" stroke="#3a5cc8"/><line x1="1681.5" y1="595.8" x2="1430.6" y2="676.2" stroke="#3a5cc8"/><line x1="1681.5" y1="595.8" x2="1414.7" y2="768" stroke="#3a5cc8"/><line x1="1681.5" y1="595.8" x2="1400.7" y2="959.2" stroke="#3a5cc8"/><line x1="1681.5" y1="595.8" x2="1397" y2="1056.6" stroke="#3a5cc8"/><line x1="1681.5" y1="1078.6" x2="1389" y2="144" stroke="#3cc8c8"/><line x1="1681.5" y1="1078.6" x2="1389.5" y2="192.4" stroke="#3cc8c8"/><line x1="1681.5" y1="1078.6" x2="1390" y2="241.4" stroke="#3cc8c8"/><line x1="1681.5" y1="1078.6" x2="1390.6" y2="290.3" stroke="#3cc8c8"/><line x1="1681.5" y1="1078.6" x2="1395.8" y2="573.8" stroke="#3cc8c8"/><line x1="1681.5" y1="1078.6" x2="1397.2" y2="622.4" stroke="#3cc8c8"/><line x1="1681.5" y1="1078.6" x2="1406.3" y2="815.8" stroke="#3cc8c8"/><line x1="1681.5" y1="1078.6" x2="1415.2" y2="910.8" stroke="#3cc8c8"/><line x1="1681.5" y1="1078.6" x2="1448" y2="1083.2" stroke="#3cc8c8"/></g>
<g fill="#000"><use href="#arr" transform="translate(1322.1,113.4) rotate(1.1)"/><use href="#arr" transform="translate(1341.2,198.2) rotate(19.6)"/><use href="#arr" transform="translate(1355.3,292.9) rotate(34.8)"/><use href="#arr" transform="translate(1370.3,673.3) rotate(63.7)"/><use href="#arr" transform="translate(1371.6,771.2) rotate(67.0)"/><use href="#arr" transform="translate(1372.6,869.1) rotate(69.7)"/><use href="#arr" transform="translate(1373.4,966.7) rotate(71.8)"/><use href="#arr" transform="translate(1374,1065) rotate(73.5)"/><use href="#arr" transform="translate(1365.7,230.7) rotate(-52.9)"/><use href="#arr" transform="translate(1363.8,279.5) rotate(-49.1)"/><use href="#arr" transform="translate(1361.4,328.1) rotate(-44.6)"/><use href="#arr" transform="translate(1358.2,376.1) rotate(-39.2)"/><use href="#arr" transform="translate(1322,594.5) rotate(0.0)"/><use href="#arr" transform="translate(1328.9,634.8) rotate(9.7)"/><use href="#arr" transform="translate(1340.2,679) rotate(18.8)"/><use href="#arr" transform="translate(1354.8,773.5) rotate(34.2)"/><use href="#arr" transform="translate(1361.9,870.3) rotate(45.5)"/><use href="#arr" transform="translate(1368.6,1065.4) rotate(59.5)"/><use href="#arr" transform="translate(1373.3,231.5) rotate(-71.7)"/><use href="#arr" transform="translate(1372.5,329.4) rotate(-69.5)"/><use href="#arr" transform="translate(1369.5,564.7) rotate(-61.7)"/><use href="#arr" transform="translate(1365.9,711.2) rotate(-53.5)"/><use href="#arr" transform="translate(1361.8,808.7) rotate(-45.3)"/><use href="#arr" transform="translate(1354.6,905.5) rotate(-33.9)"/><use href="#arr" transform="translate(1322,1084.2) rotate(0.3)"/><use href="#arr" transform="translate(1437.5,113.4) rotate(178.9)"/><use href="#arr" transform="translate(1419.2,198.5) rotate(161.1)"/><use href="#arr" transform="translate(1410.9,245.3) rotate(153.2)"/><use href="#arr" transform="translate(1391.6,575.5) rotate(121.8)"/><use href="#arr" transform="translate(1389.7,673.3) rotate(117.3)"/><use href="#arr" transform="translate(1388.3,771.2) rotate(113.9)"/><use href="#arr" transform="translate(1386.5,966.7) rotate(109.0)"/><use href="#arr" transform="translate(1385.8,1065) rotate(107.2)"/><use href="#arr" transform="translate(1391.7,133.5) rotate(-122.1)"/><use href="#arr" transform="translate(1394.5,230.6) rotate(-128.2)"/><use href="#arr" transform="translate(1396.4,279.4) rotate(-132.0)"/><use href="#arr" transform="translate(1437.6,594.7) rotate(-179.8)"/><use href="#arr" transform="translate(1420.6,679.4) rotate(162.2)"/><use href="#arr" transform="translate(1405.8,773.7) rotate(147.2)"/><use href="#arr" transform="translate(1394.2,967.5) rotate(127.7)"/><use href="#arr" transform="translate(1391.5,1065.5) rotate(121.7)"/><use href="#arr" transform="translate(1385.9,134) rotate(-107.4)"/><use href="#arr" transform="translate(1386.2,182.5) rotate(-108.2)"/><use href="#arr" transform="translate(1386.6,231.5) rotate(-109.2)"/><use href="#arr" transform="translate(1387,280.4) rotate(-110.3)"/><use href="#arr" transform="translate(1390.6,564.7) rotate(-119.5)"/><use href="#arr" transform="translate(1391.6,613.5) rotate(-121.9)"/><use href="#arr" transform="translate(1398.7,808.5) rotate(-136.3)"/><use href="#arr" transform="translate(1406.3,905.2) rotate(-147.8)"/><use href="#arr" transform="translate(1437.5,1083.4) rotate(178.9)"/></g>
<ellipse cx="1379.8" cy="114.5" rx="53.95" ry="15.9" fill="#b8192c" stroke="#a855b5" stroke-width="2.3"/>
<text x="1379.8" y="120.4" class="nl">S100A11</text>
<ellipse cx="1379.8" cy="163" rx="53.95" ry="15.9" fill="#e07a6a" stroke="#a855b5" stroke-width="2.3"/>
<text x="1379.8" y="168.9" class="nl">LDLR</text>
<ellipse cx="1379.8" cy="212" rx="53.95" ry="15.9" fill="#e48f80" stroke="#a855b5" stroke-width="2.3"/>
<text x="1379.8" y="217.9" class="nl">LGALS3</text>
<ellipse cx="1379.8" cy="261" rx="53.95" ry="15.9" fill="#e69a8c" stroke="#a855b5" stroke-width="2.3"/>
<text x="1379.8" y="266.9" class="nl">PLAUR</text>
<ellipse cx="1379.8" cy="310" rx="53.95" ry="15.9" fill="#eaaa9f" stroke="#a855b5" stroke-width="2.3"/>
<text x="1379.8" y="315.9" class="nl">SCD</text>
<ellipse cx="1379.8" cy="358.5" rx="53.95" ry="15.9" fill="#ebb0a6" stroke="#a855b5" stroke-width="2.3"/>
<text x="1379.8" y="364.4" class="nl">CXCL16</text>
<ellipse cx="1379.8" cy="408.3" rx="53.95" ry="15.9" fill="#edb9b0" stroke="#a855b5" stroke-width="2.3"/>
<text x="1379.8" y="414.2" class="nl">FDFT1</text>
<ellipse cx="1379.8" cy="447.4" rx="53.95" ry="15.9" fill="#edbdb4" stroke="#a855b5" stroke-width="2.3"/>
<text x="1379.8" y="453.3" class="nl">DHCR24</text>
<ellipse cx="1379.8" cy="496.4" rx="53.95" ry="15.9" fill="#eec1ba" stroke="#20a8dc" stroke-width="2.3"/>
<text x="1379.8" y="502.3" class="nl">MSMO1</text>
<ellipse cx="1379.8" cy="545.6" rx="53.95" ry="15.9" fill="#efc4bd" stroke="#a855b5" stroke-width="2.3"/>
<text x="1379.8" y="551.5" class="nl">FASN</text>
<ellipse cx="1379.8" cy="594.5" rx="53.95" ry="15.9" fill="#f0c8c1" stroke="#a855b5" stroke-width="2.3"/>
<text x="1379.8" y="600.4" class="nl">TNFRSF12A</text>
<ellipse cx="1379.8" cy="643.5" rx="53.95" ry="15.9" fill="#f0cac4" stroke="#a855b5" stroke-width="2.3"/>
<text x="1379.8" y="649.4" class="nl">IDI1</text>
<ellipse cx="1379.8" cy="692.5" rx="53.95" ry="15.9" fill="#f1ccc6" stroke="#a855b5" stroke-width="2.3"/>
<text x="1379.8" y="698.4" class="nl">FDPS</text>
<ellipse cx="1379.8" cy="741.5" rx="53.95" ry="15.9" fill="#f1cfc9" stroke="#a855b5" stroke-width="2.3"/>
<text x="1379.8" y="747.4" class="nl">LSS</text>
<ellipse cx="1379.8" cy="790.5" rx="53.95" ry="15.9" fill="#f2d2cc" stroke="#a855b5" stroke-width="2.3"/>
<text x="1379.8" y="796.4" class="nl">ACTG1</text>
<ellipse cx="1379.8" cy="839.5" rx="53.95" ry="15.9" fill="#f3d5d0" stroke="#a855b5" stroke-width="2.3"/>
<text x="1379.8" y="845.4" class="nl">EBP</text>
<ellipse cx="1379.8" cy="888.5" rx="53.95" ry="15.9" fill="#f4d9d4" stroke="#a855b5" stroke-width="2.3"/>
<text x="1379.8" y="894.4" class="nl">MAL2</text>
<ellipse cx="1379.8" cy="937.4" rx="53.95" ry="15.9" fill="#bed8ea" stroke="#a855b5" stroke-width="2.3"/>
<text x="1379.8" y="943.3" class="nl">ECH1</text>
<ellipse cx="1379.8" cy="986.2" rx="53.95" ry="15.9" fill="#b4d3e7" stroke="#a855b5" stroke-width="2.3"/>
<text x="1379.8" y="992.1" class="nl">ACSS2</text>
<ellipse cx="1379.8" cy="1035.2" rx="53.95" ry="15.9" fill="#a2cae3" stroke="#a855b5" stroke-width="2.3"/>
<text x="1379.8" y="1041.1" class="nl">ACAT1</text>
<ellipse cx="1379.8" cy="1084.5" rx="53.95" ry="15.9" fill="#92c1de" stroke="#a855b5" stroke-width="2.3"/>
<text x="1379.8" y="1090.4" class="nl">PPARG</text>
<path d="M1068.8,93 L1113.2,93 L1144.5,102.4 L1144.5,115.6 L1113.2,125 L1068.8,125 L1037.5,115.6 L1037.5,102.4Z" fill="#fff" stroke="#22a522" stroke-width="2.1"/>
<text x="1091" y="114.9" class="nl">CEBPB</text>
<path d="M1068.8,578.3 L1113.2,578.3 L1144.5,587.7 L1144.5,600.9 L1113.2,610.3 L1068.8,610.3 L1037.5,600.9 L1037.5,587.7Z" fill="#fff" stroke="#22a522" stroke-width="2.1"/>
<text x="1091" y="600.2" class="nl">CREB3</text>
<path d="M1068.8,1066.8 L1113.2,1066.8 L1144.5,1076.2 L1144.5,1089.4 L1113.2,1098.8 L1068.8,1098.8 L1037.5,1089.4 L1037.5,1076.2Z" fill="#fff" stroke="#22a522" stroke-width="2.1"/>
<text x="1091" y="1088.7" class="nl">NR2F1</text>
<path d="M1659.3,92.7 L1703.7,92.7 L1735,102.1 L1735,115.3 L1703.7,124.7 L1659.3,124.7 L1628,115.3 L1628,102.1Z" fill="#fff" stroke="#22a522" stroke-width="2.1"/>
<text x="1681.5" y="114.6" class="nl">KLF16</text>
<path d="M1659.3,579.8 L1703.7,579.8 L1735,589.2 L1735,602.4 L1703.7,611.8 L1659.3,611.8 L1628,602.4 L1628,589.2Z" fill="#fff" stroke="#22a522" stroke-width="2.1"/>
<text x="1681.5" y="601.7" class="nl">SP6</text>
<path d="M1659.3,1062.6 L1703.7,1062.6 L1735,1072 L1735,1085.2 L1703.7,1094.6 L1659.3,1094.6 L1628,1085.2 L1628,1072Z" fill="#fff" stroke="#22a522" stroke-width="2.1"/>
<text x="1681.5" y="1084.5" class="nl">FOSL1</text>
<text x="1055" y="1155.5" class="lg">Node Shape:  Regulatory function</text>
<rect x="1054.8" y="1163.5" width="166.8" height="149.8" fill="none" stroke="#333" stroke-width="1"/>
<circle cx="1089.9" cy="1214.4" r="27.4" fill="#c8c8c8" stroke="#333" stroke-width="1"/>
<path d="M1079.3,1251.8 L1100.5,1251.8 L1115.4,1266.9 L1115.4,1288.3 L1100.5,1303.3 L1079.3,1303.3 L1064.4,1288.3 L1064.4,1266.9Z" fill="#c8c8c8" stroke="#333" stroke-width="1"/>
<text x="1133.3" y="1211.5" class="lg">Regulated</text>
<text x="1133.3" y="1274.5" class="lg">Regulator</text>
<text x="1340.2" y="1155.5" class="lg">Node Fill Color:  avg_log2FC</text>
<defs><linearGradient id="rdbu" x1="0" y1="0" x2="1" y2="0"><stop offset="0" stop-color="#4393c3"/><stop offset="0.2" stop-color="#7db6d8"/><stop offset="0.33" stop-color="#b0d2e6"/><stop offset="0.42" stop-color="#d6e7f1"/><stop offset="0.5" stop-color="#fbfbfb"/><stop offset="0.58" stop-color="#f7e1dc"/><stop offset="0.7" stop-color="#eebbb1"/><stop offset="0.85" stop-color="#e48f80"/><stop offset="1" stop-color="#d6604d"/></linearGradient></defs>
<rect x="1340.2" y="1163.3" width="394.5" height="78.4" fill="url(#rdbu)" stroke="#333" stroke-width="1"/>
<line x1="1340.2" y1="1241.7" x2="1340.2" y2="1249" stroke="#000" stroke-width="1.3"/>
<text x="1340.2" y="1268.8" class="lgt">-1.0</text>
<line x1="1438.8" y1="1241.7" x2="1438.8" y2="1249" stroke="#000" stroke-width="1.3"/>
<text x="1438.8" y="1268.8" class="lgt">-0.5</text>
<line x1="1537.4" y1="1241.7" x2="1537.4" y2="1249" stroke="#000" stroke-width="1.3"/>
<text x="1537.4" y="1268.8" class="lgt">0.0</text>
<line x1="1636" y1="1241.7" x2="1636" y2="1249" stroke="#000" stroke-width="1.3"/>
<text x="1636" y="1268.8" class="lgt">0.5</text>
<line x1="1734.6" y1="1241.7" x2="1734.6" y2="1249" stroke="#000" stroke-width="1.3"/>
<text x="1734.6" y="1268.8" class="lgt">1.0</text>
</svg>
</body></html>
